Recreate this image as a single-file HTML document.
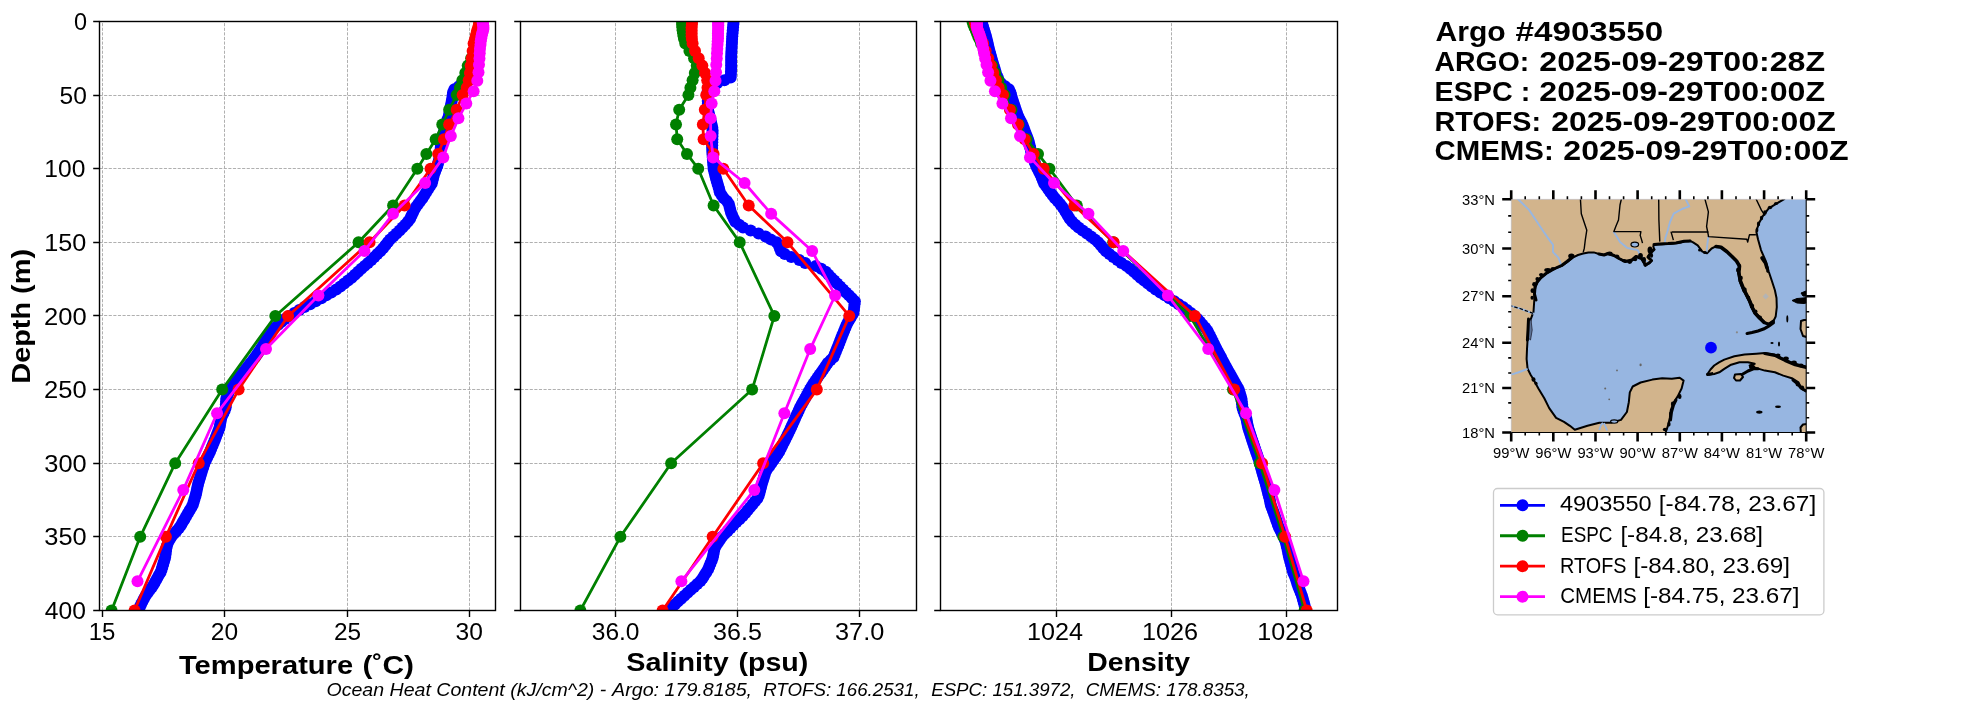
<!DOCTYPE html>
<html><head><meta charset="utf-8"><title>Argo profile comparison</title>
<style>html,body{margin:0;padding:0;background:#fff;overflow:hidden}svg{display:block;will-change:transform}text{font-family:"Liberation Sans",sans-serif;fill:#000;white-space:pre}</style>
</head><body>
<svg width="1967" height="712" viewBox="0 0 1967 712">
<rect width="100%" height="100%" fill="#fff"/>
<defs>
<clipPath id="c0"><rect x="99.5" y="21.45" width="396" height="589"/></clipPath>
<clipPath id="c1"><rect x="520.5" y="21.45" width="396" height="589"/></clipPath>
<clipPath id="c2"><rect x="940.5" y="21.45" width="397" height="589"/></clipPath>
</defs>
<path d="M102.5 610.45V21.45M224.5 610.45V21.45M347.5 610.45V21.45M469.5 610.45V21.45M99.5 95.5H495.5M99.5 168.5H495.5M99.5 242.5H495.5M99.5 315.5H495.5M99.5 389.5H495.5M99.5 463.5H495.5M99.5 536.5H495.5" stroke="#b0b0b0" stroke-width="1" stroke-dasharray="3.15 1.45" fill="none"/>
<g clip-path="url(#c0)">
<polyline points="480.23,21.45 479.61,24.39 479,27.34 478.43,30.28 477.86,33.23 477.29,36.17 477,39.12 476.7,42.06 476.41,45.01 476.11,47.95 475.82,50.9 475.38,53.84 474.94,56.79 474.5,59.73 474.06,62.68 473.62,65.62 473.13,68.57 472.64,71.52 472.15,74.46 470.84,77.41 468.97,80.35 465.05,83.3 458.93,86.24 454.4,89.19 453.1,92.13 452.71,95.08 452.32,98.02 451.75,100.97 451.18,103.91 450.61,106.86 450.03,109.8 449.46,112.75 448.89,115.69 447.83,118.63 446.77,121.58 445.71,124.52 445.02,127.47 444.34,130.41 443.55,133.36 442.65,136.3 441.75,139.25 441.18,142.19 440.94,145.14 440.69,148.08 440.42,151.03 440.13,153.97 439.83,156.92 439.02,159.86 438.2,162.81 437.39,165.75 436.24,168.7 435.1,171.64 433.96,174.59 433.22,177.53 432.49,180.48 431.76,183.42 429.9,186.37 428.04,189.31 426.17,192.26 424.29,195.2 422.41,198.15 420.37,201.09 418.17,204.04 415.97,206.98 414.19,209.93 412.84,212.87 411.48,215.82 410.13,218.76 407.85,221.71 405.18,224.65 402.51,227.6 399.64,230.54 396.48,233.49 393.31,236.43 390.14,239.38 387.77,242.32 385.39,245.27 383.02,248.21 380.26,251.16 377.34,254.1 374.41,257.05 371.35,260 368.01,262.94 364.67,265.88 361.34,268.83 358.12,271.77 354.91,274.72 351.69,277.66 348.07,280.61 344.27,283.55 340.47,286.5 336.26,289.44 331.29,292.39 326.32,295.33 321.35,298.28 315.72,301.22 310.1,304.17 304.47,307.11 299.27,310.06 294.3,313 289.33,315.95 284.88,318.89 281.61,321.84 278.17,324.78 274.56,327.73 271.69,330.67 269.94,333.62 268.18,336.56 266.43,339.51 264.67,342.45 262.92,345.4 261.17,348.34 259.19,351.29 257.11,354.23 255.03,357.18 252.85,360.12 250.51,363.07 248.17,366.01 245.84,368.96 243.5,371.9 241.16,374.85 238.82,377.79 236.43,380.74 234.02,383.68 231.61,386.63 229.66,389.57 228.56,392.52 227.46,395.46 226.37,398.41 226.15,401.35 225.92,404.3 225.7,407.24 224.71,410.19 223.4,413.13 222.08,416.08 221.05,419.02 220.54,421.97 220.03,424.91 219.51,427.86 218.37,430.8 217.22,433.75 216.07,436.69 214.92,439.64 213.76,442.58 212.54,445.53 211.31,448.47 210.09,451.42 208.75,454.36 207.31,457.31 205.86,460.25 204.41,463.2 203.5,466.14 202.61,469.09 201.73,472.03 200.84,474.98 199.96,477.92 199.08,480.87 198.19,483.81 197.51,486.76 196.89,489.7 196.27,492.65 195.59,495.59 194.69,498.54 193.8,501.48 192.9,504.43 191.44,507.37 189.67,510.32 187.9,513.26 186.14,516.21 184.48,519.15 182.83,522.1 181.17,525.04 179.07,527.99 176.52,530.93 173.97,533.88 171.43,536.83 169.62,539.77 167.95,542.72 166.96,545.66 166.28,548.61 165.9,551.55 165.53,554.5 165.13,557.44 164.26,560.38 163.39,563.33 162.52,566.27 161.66,569.22 160.59,572.16 158.95,575.11 157.3,578.06 155.65,581 154,583.95 152.09,586.89 149.93,589.84 147.77,592.78 145.61,595.73 143.9,598.67 142.44,601.62 140.98,604.56 139.67,607.5 138.7,610.45 137.74,613.39 136.77,616.34" fill="none" stroke="#0000ff" stroke-width="2.8" stroke-linejoin="round" stroke-linecap="butt"/>
<g fill="#0000ff"><circle cx="480.23" cy="21.45" r="6.0"/><circle cx="479.61" cy="24.39" r="6.0"/><circle cx="479" cy="27.34" r="6.0"/><circle cx="478.43" cy="30.28" r="6.0"/><circle cx="477.86" cy="33.23" r="6.0"/><circle cx="477.29" cy="36.17" r="6.0"/><circle cx="477" cy="39.12" r="6.0"/><circle cx="476.7" cy="42.06" r="6.0"/><circle cx="476.41" cy="45.01" r="6.0"/><circle cx="476.11" cy="47.95" r="6.0"/><circle cx="475.82" cy="50.9" r="6.0"/><circle cx="475.38" cy="53.84" r="6.0"/><circle cx="474.94" cy="56.79" r="6.0"/><circle cx="474.5" cy="59.73" r="6.0"/><circle cx="474.06" cy="62.68" r="6.0"/><circle cx="473.62" cy="65.62" r="6.0"/><circle cx="473.13" cy="68.57" r="6.0"/><circle cx="472.64" cy="71.52" r="6.0"/><circle cx="472.15" cy="74.46" r="6.0"/><circle cx="470.84" cy="77.41" r="6.0"/><circle cx="468.97" cy="80.35" r="6.0"/><circle cx="465.05" cy="83.3" r="6.0"/><circle cx="458.93" cy="86.24" r="6.0"/><circle cx="454.4" cy="89.19" r="6.0"/><circle cx="453.1" cy="92.13" r="6.0"/><circle cx="452.71" cy="95.08" r="6.0"/><circle cx="452.32" cy="98.02" r="6.0"/><circle cx="451.75" cy="100.97" r="6.0"/><circle cx="451.18" cy="103.91" r="6.0"/><circle cx="450.61" cy="106.86" r="6.0"/><circle cx="450.03" cy="109.8" r="6.0"/><circle cx="449.46" cy="112.75" r="6.0"/><circle cx="448.89" cy="115.69" r="6.0"/><circle cx="447.83" cy="118.63" r="6.0"/><circle cx="446.77" cy="121.58" r="6.0"/><circle cx="445.71" cy="124.52" r="6.0"/><circle cx="445.02" cy="127.47" r="6.0"/><circle cx="444.34" cy="130.41" r="6.0"/><circle cx="443.55" cy="133.36" r="6.0"/><circle cx="442.65" cy="136.3" r="6.0"/><circle cx="441.75" cy="139.25" r="6.0"/><circle cx="441.18" cy="142.19" r="6.0"/><circle cx="440.94" cy="145.14" r="6.0"/><circle cx="440.69" cy="148.08" r="6.0"/><circle cx="440.42" cy="151.03" r="6.0"/><circle cx="440.13" cy="153.97" r="6.0"/><circle cx="439.83" cy="156.92" r="6.0"/><circle cx="439.02" cy="159.86" r="6.0"/><circle cx="438.2" cy="162.81" r="6.0"/><circle cx="437.39" cy="165.75" r="6.0"/><circle cx="436.24" cy="168.7" r="6.0"/><circle cx="435.1" cy="171.64" r="6.0"/><circle cx="433.96" cy="174.59" r="6.0"/><circle cx="433.22" cy="177.53" r="6.0"/><circle cx="432.49" cy="180.48" r="6.0"/><circle cx="431.76" cy="183.42" r="6.0"/><circle cx="429.9" cy="186.37" r="6.0"/><circle cx="428.04" cy="189.31" r="6.0"/><circle cx="426.17" cy="192.26" r="6.0"/><circle cx="424.29" cy="195.2" r="6.0"/><circle cx="422.41" cy="198.15" r="6.0"/><circle cx="420.37" cy="201.09" r="6.0"/><circle cx="418.17" cy="204.04" r="6.0"/><circle cx="415.97" cy="206.98" r="6.0"/><circle cx="414.19" cy="209.93" r="6.0"/><circle cx="412.84" cy="212.87" r="6.0"/><circle cx="411.48" cy="215.82" r="6.0"/><circle cx="410.13" cy="218.76" r="6.0"/><circle cx="407.85" cy="221.71" r="6.0"/><circle cx="405.18" cy="224.65" r="6.0"/><circle cx="402.51" cy="227.6" r="6.0"/><circle cx="399.64" cy="230.54" r="6.0"/><circle cx="396.48" cy="233.49" r="6.0"/><circle cx="393.31" cy="236.43" r="6.0"/><circle cx="390.14" cy="239.38" r="6.0"/><circle cx="387.77" cy="242.32" r="6.0"/><circle cx="385.39" cy="245.27" r="6.0"/><circle cx="383.02" cy="248.21" r="6.0"/><circle cx="380.26" cy="251.16" r="6.0"/><circle cx="377.34" cy="254.1" r="6.0"/><circle cx="374.41" cy="257.05" r="6.0"/><circle cx="371.35" cy="260" r="6.0"/><circle cx="368.01" cy="262.94" r="6.0"/><circle cx="364.67" cy="265.88" r="6.0"/><circle cx="361.34" cy="268.83" r="6.0"/><circle cx="358.12" cy="271.77" r="6.0"/><circle cx="354.91" cy="274.72" r="6.0"/><circle cx="351.69" cy="277.66" r="6.0"/><circle cx="348.07" cy="280.61" r="6.0"/><circle cx="344.27" cy="283.55" r="6.0"/><circle cx="340.47" cy="286.5" r="6.0"/><circle cx="336.26" cy="289.44" r="6.0"/><circle cx="331.29" cy="292.39" r="6.0"/><circle cx="326.32" cy="295.33" r="6.0"/><circle cx="321.35" cy="298.28" r="6.0"/><circle cx="315.72" cy="301.22" r="6.0"/><circle cx="310.1" cy="304.17" r="6.0"/><circle cx="304.47" cy="307.11" r="6.0"/><circle cx="299.27" cy="310.06" r="6.0"/><circle cx="294.3" cy="313" r="6.0"/><circle cx="289.33" cy="315.95" r="6.0"/><circle cx="284.88" cy="318.89" r="6.0"/><circle cx="281.61" cy="321.84" r="6.0"/><circle cx="278.17" cy="324.78" r="6.0"/><circle cx="274.56" cy="327.73" r="6.0"/><circle cx="271.69" cy="330.67" r="6.0"/><circle cx="269.94" cy="333.62" r="6.0"/><circle cx="268.18" cy="336.56" r="6.0"/><circle cx="266.43" cy="339.51" r="6.0"/><circle cx="264.67" cy="342.45" r="6.0"/><circle cx="262.92" cy="345.4" r="6.0"/><circle cx="261.17" cy="348.34" r="6.0"/><circle cx="259.19" cy="351.29" r="6.0"/><circle cx="257.11" cy="354.23" r="6.0"/><circle cx="255.03" cy="357.18" r="6.0"/><circle cx="252.85" cy="360.12" r="6.0"/><circle cx="250.51" cy="363.07" r="6.0"/><circle cx="248.17" cy="366.01" r="6.0"/><circle cx="245.84" cy="368.96" r="6.0"/><circle cx="243.5" cy="371.9" r="6.0"/><circle cx="241.16" cy="374.85" r="6.0"/><circle cx="238.82" cy="377.79" r="6.0"/><circle cx="236.43" cy="380.74" r="6.0"/><circle cx="234.02" cy="383.68" r="6.0"/><circle cx="231.61" cy="386.63" r="6.0"/><circle cx="229.66" cy="389.57" r="6.0"/><circle cx="228.56" cy="392.52" r="6.0"/><circle cx="227.46" cy="395.46" r="6.0"/><circle cx="226.37" cy="398.41" r="6.0"/><circle cx="226.15" cy="401.35" r="6.0"/><circle cx="225.92" cy="404.3" r="6.0"/><circle cx="225.7" cy="407.24" r="6.0"/><circle cx="224.71" cy="410.19" r="6.0"/><circle cx="223.4" cy="413.13" r="6.0"/><circle cx="222.08" cy="416.08" r="6.0"/><circle cx="221.05" cy="419.02" r="6.0"/><circle cx="220.54" cy="421.97" r="6.0"/><circle cx="220.03" cy="424.91" r="6.0"/><circle cx="219.51" cy="427.86" r="6.0"/><circle cx="218.37" cy="430.8" r="6.0"/><circle cx="217.22" cy="433.75" r="6.0"/><circle cx="216.07" cy="436.69" r="6.0"/><circle cx="214.92" cy="439.64" r="6.0"/><circle cx="213.76" cy="442.58" r="6.0"/><circle cx="212.54" cy="445.53" r="6.0"/><circle cx="211.31" cy="448.47" r="6.0"/><circle cx="210.09" cy="451.42" r="6.0"/><circle cx="208.75" cy="454.36" r="6.0"/><circle cx="207.31" cy="457.31" r="6.0"/><circle cx="205.86" cy="460.25" r="6.0"/><circle cx="204.41" cy="463.2" r="6.0"/><circle cx="203.5" cy="466.14" r="6.0"/><circle cx="202.61" cy="469.09" r="6.0"/><circle cx="201.73" cy="472.03" r="6.0"/><circle cx="200.84" cy="474.98" r="6.0"/><circle cx="199.96" cy="477.92" r="6.0"/><circle cx="199.08" cy="480.87" r="6.0"/><circle cx="198.19" cy="483.81" r="6.0"/><circle cx="197.51" cy="486.76" r="6.0"/><circle cx="196.89" cy="489.7" r="6.0"/><circle cx="196.27" cy="492.65" r="6.0"/><circle cx="195.59" cy="495.59" r="6.0"/><circle cx="194.69" cy="498.54" r="6.0"/><circle cx="193.8" cy="501.48" r="6.0"/><circle cx="192.9" cy="504.43" r="6.0"/><circle cx="191.44" cy="507.37" r="6.0"/><circle cx="189.67" cy="510.32" r="6.0"/><circle cx="187.9" cy="513.26" r="6.0"/><circle cx="186.14" cy="516.21" r="6.0"/><circle cx="184.48" cy="519.15" r="6.0"/><circle cx="182.83" cy="522.1" r="6.0"/><circle cx="181.17" cy="525.04" r="6.0"/><circle cx="179.07" cy="527.99" r="6.0"/><circle cx="176.52" cy="530.93" r="6.0"/><circle cx="173.97" cy="533.88" r="6.0"/><circle cx="171.43" cy="536.83" r="6.0"/><circle cx="169.62" cy="539.77" r="6.0"/><circle cx="167.95" cy="542.72" r="6.0"/><circle cx="166.96" cy="545.66" r="6.0"/><circle cx="166.28" cy="548.61" r="6.0"/><circle cx="165.9" cy="551.55" r="6.0"/><circle cx="165.53" cy="554.5" r="6.0"/><circle cx="165.13" cy="557.44" r="6.0"/><circle cx="164.26" cy="560.38" r="6.0"/><circle cx="163.39" cy="563.33" r="6.0"/><circle cx="162.52" cy="566.27" r="6.0"/><circle cx="161.66" cy="569.22" r="6.0"/><circle cx="160.59" cy="572.16" r="6.0"/><circle cx="158.95" cy="575.11" r="6.0"/><circle cx="157.3" cy="578.06" r="6.0"/><circle cx="155.65" cy="581" r="6.0"/><circle cx="154" cy="583.95" r="6.0"/><circle cx="152.09" cy="586.89" r="6.0"/><circle cx="149.93" cy="589.84" r="6.0"/><circle cx="147.77" cy="592.78" r="6.0"/><circle cx="145.61" cy="595.73" r="6.0"/><circle cx="143.9" cy="598.67" r="6.0"/><circle cx="142.44" cy="601.62" r="6.0"/><circle cx="140.98" cy="604.56" r="6.0"/><circle cx="139.67" cy="607.5" r="6.0"/><circle cx="138.7" cy="610.45" r="6.0"/><circle cx="137.74" cy="613.39" r="6.0"/><circle cx="136.77" cy="616.34" r="6.0"/></g>
<polyline points="479.98,21.45 479.49,24.39 478.76,27.34 477.78,30.28 477.04,33.23 476.31,36.17 475.58,39.12 474.6,43.54 473.37,50.9 471.17,58.26 467.74,65.62 465.29,72.99 462.36,80.35 459.91,87.71 456.73,95.08 449.14,109.8 442.28,124.52 435.67,139.25 426.37,153.97 417.31,168.7 393.08,205.51 358.56,242.32 275.33,315.95 222.21,389.57 175.21,463.2 140.2,536.83 111.56,610.45 65.78,757.7" fill="none" stroke="#008000" stroke-width="2.8" stroke-linejoin="round" stroke-linecap="butt"/>
<g fill="#008000"><circle cx="479.98" cy="21.45" r="6.0"/><circle cx="479.49" cy="24.39" r="6.0"/><circle cx="478.76" cy="27.34" r="6.0"/><circle cx="477.78" cy="30.28" r="6.0"/><circle cx="477.04" cy="33.23" r="6.0"/><circle cx="476.31" cy="36.17" r="6.0"/><circle cx="475.58" cy="39.12" r="6.0"/><circle cx="474.6" cy="43.54" r="6.0"/><circle cx="473.37" cy="50.9" r="6.0"/><circle cx="471.17" cy="58.26" r="6.0"/><circle cx="467.74" cy="65.62" r="6.0"/><circle cx="465.29" cy="72.99" r="6.0"/><circle cx="462.36" cy="80.35" r="6.0"/><circle cx="459.91" cy="87.71" r="6.0"/><circle cx="456.73" cy="95.08" r="6.0"/><circle cx="449.14" cy="109.8" r="6.0"/><circle cx="442.28" cy="124.52" r="6.0"/><circle cx="435.67" cy="139.25" r="6.0"/><circle cx="426.37" cy="153.97" r="6.0"/><circle cx="417.31" cy="168.7" r="6.0"/><circle cx="393.08" cy="205.51" r="6.0"/><circle cx="358.56" cy="242.32" r="6.0"/><circle cx="275.33" cy="315.95" r="6.0"/><circle cx="222.21" cy="389.57" r="6.0"/><circle cx="175.21" cy="463.2" r="6.0"/><circle cx="140.2" cy="536.83" r="6.0"/><circle cx="111.56" cy="610.45" r="6.0"/><circle cx="65.78" cy="757.7" r="6.0"/></g>
<polyline points="479.49,21.45 479,24.39 478.27,27.34 477.29,30.28 476.55,33.23 475.82,36.17 475.09,39.12 473.62,43.54 472.64,50.9 471.66,58.26 470.68,65.62 469.94,72.99 468.72,80.35 466.76,87.71 462.6,95.08 456.73,109.8 449.14,124.52 444,139.25 438.12,153.97 430.53,168.7 404.58,205.51 369.58,242.32 288.06,315.95 238.61,389.57 198.71,463.2 165.9,536.83 134.57,610.45 90.26,757.7" fill="none" stroke="#ff0000" stroke-width="2.8" stroke-linejoin="round" stroke-linecap="butt"/>
<g fill="#ff0000"><circle cx="479.49" cy="21.45" r="6.0"/><circle cx="479" cy="24.39" r="6.0"/><circle cx="478.27" cy="27.34" r="6.0"/><circle cx="477.29" cy="30.28" r="6.0"/><circle cx="476.55" cy="33.23" r="6.0"/><circle cx="475.82" cy="36.17" r="6.0"/><circle cx="475.09" cy="39.12" r="6.0"/><circle cx="473.62" cy="43.54" r="6.0"/><circle cx="472.64" cy="50.9" r="6.0"/><circle cx="471.66" cy="58.26" r="6.0"/><circle cx="470.68" cy="65.62" r="6.0"/><circle cx="469.94" cy="72.99" r="6.0"/><circle cx="468.72" cy="80.35" r="6.0"/><circle cx="466.76" cy="87.71" r="6.0"/><circle cx="462.6" cy="95.08" r="6.0"/><circle cx="456.73" cy="109.8" r="6.0"/><circle cx="449.14" cy="124.52" r="6.0"/><circle cx="444" cy="139.25" r="6.0"/><circle cx="438.12" cy="153.97" r="6.0"/><circle cx="430.53" cy="168.7" r="6.0"/><circle cx="404.58" cy="205.51" r="6.0"/><circle cx="369.58" cy="242.32" r="6.0"/><circle cx="288.06" cy="315.95" r="6.0"/><circle cx="238.61" cy="389.57" r="6.0"/><circle cx="198.71" cy="463.2" r="6.0"/><circle cx="165.9" cy="536.83" r="6.0"/><circle cx="134.57" cy="610.45" r="6.0"/><circle cx="90.26" cy="757.7" r="6.0"/></g>
<polyline points="482.67,22.18 482.92,23.72 483.16,25.35 483.41,27.07 483.41,28.93 482.92,30.93 482.18,33.13 481.7,35.55 481.21,38.24 480.72,41.28 480.47,44.73 479.98,48.69 479.74,53.25 479.49,58.57 479,64.81 478.51,72.15 477.29,80.86 473.62,91.21 466.27,103.56 458.44,118.35 450.85,136.09 443.26,157.4 425.15,183.03 393.08,213.86 364.44,250.94 318.41,295.52 266.03,349.04 217.07,413.19 183.28,489.89 137.51,581.31" fill="none" stroke="#ff00ff" stroke-width="2.8" stroke-linejoin="round" stroke-linecap="butt"/>
<g fill="#ff00ff"><circle cx="482.67" cy="22.18" r="6.0"/><circle cx="482.92" cy="23.72" r="6.0"/><circle cx="483.16" cy="25.35" r="6.0"/><circle cx="483.41" cy="27.07" r="6.0"/><circle cx="483.41" cy="28.93" r="6.0"/><circle cx="482.92" cy="30.93" r="6.0"/><circle cx="482.18" cy="33.13" r="6.0"/><circle cx="481.7" cy="35.55" r="6.0"/><circle cx="481.21" cy="38.24" r="6.0"/><circle cx="480.72" cy="41.28" r="6.0"/><circle cx="480.47" cy="44.73" r="6.0"/><circle cx="479.98" cy="48.69" r="6.0"/><circle cx="479.74" cy="53.25" r="6.0"/><circle cx="479.49" cy="58.57" r="6.0"/><circle cx="479" cy="64.81" r="6.0"/><circle cx="478.51" cy="72.15" r="6.0"/><circle cx="477.29" cy="80.86" r="6.0"/><circle cx="473.62" cy="91.21" r="6.0"/><circle cx="466.27" cy="103.56" r="6.0"/><circle cx="458.44" cy="118.35" r="6.0"/><circle cx="450.85" cy="136.09" r="6.0"/><circle cx="443.26" cy="157.4" r="6.0"/><circle cx="425.15" cy="183.03" r="6.0"/><circle cx="393.08" cy="213.86" r="6.0"/><circle cx="364.44" cy="250.94" r="6.0"/><circle cx="318.41" cy="295.52" r="6.0"/><circle cx="266.03" cy="349.04" r="6.0"/><circle cx="217.07" cy="413.19" r="6.0"/><circle cx="183.28" cy="489.89" r="6.0"/><circle cx="137.51" cy="581.31" r="6.0"/></g>
</g>
<rect x="99.5" y="21.5" width="396" height="589" fill="none" stroke="#000" stroke-width="1.4"/>
<path d="M93.2 21.5H99.5M93.2 95.5H99.5M93.2 168.5H99.5M93.2 242.5H99.5M93.2 315.5H99.5M93.2 389.5H99.5M93.2 463.5H99.5M93.2 536.5H99.5M93.2 610.5H99.5M102.5 610.5V617M224.5 610.5V617M347.5 610.5V617M469.5 610.5V617" stroke="#000" stroke-width="1.4" fill="none"/>
<path d="M615.5 610.45V21.45M737.5 610.45V21.45M859.5 610.45V21.45M520.5 95.5H916.5M520.5 168.5H916.5M520.5 242.5H916.5M520.5 315.5H916.5M520.5 389.5H916.5M520.5 463.5H916.5M520.5 536.5H916.5" stroke="#b0b0b0" stroke-width="1" stroke-dasharray="3.15 1.45" fill="none"/>
<g clip-path="url(#c1)">
<polyline points="733.6,21.45 733.32,24.39 733.05,27.34 732.78,30.28 732.51,33.23 732.28,36.17 732.1,39.12 731.92,42.06 731.74,45.01 731.57,47.95 731.43,50.9 731.3,53.84 731.16,56.79 731.16,59.73 731.16,62.68 731.16,65.62 731.16,68.57 730.99,71.52 730.83,74.46 730.67,77.41 724.42,80.35 717.11,83.3 709.44,86.24 708.14,89.19 707.53,92.13 707.6,95.08 707.68,98.02 707.75,100.97 707.83,103.91 707.9,106.86 707.98,109.8 708.69,112.75 709.4,115.69 710.12,118.63 710.83,121.58 711.54,124.52 712.26,127.47 712.58,130.41 712.51,133.36 712.44,136.3 712.37,139.25 712.3,142.19 712.23,145.14 712.16,148.08 712.24,151.03 712.46,153.97 712.69,156.92 712.91,159.86 713.14,162.81 713.36,165.75 713.59,168.7 714.32,171.64 715.04,174.59 715.77,177.53 716.6,180.48 717.47,183.42 718.34,186.37 719.17,189.31 719.86,192.26 721.78,195.2 723.84,198.15 726.83,201.09 728.81,204.04 729.57,206.98 730.34,209.93 731.1,212.87 732.3,215.82 733.8,218.76 735.3,221.71 739.16,224.65 743.02,227.6 750.62,230.54 758.57,233.49 765.61,236.43 770.68,239.38 776.5,242.32 778.9,245.27 779.84,248.21 781.06,251.16 784.79,254.1 791.28,257.05 799.3,260 805.18,262.94 815.74,265.88 821.22,268.83 825.79,271.77 828.55,274.72 831.31,277.66 834.19,280.61 837.14,283.55 840.1,286.5 843.05,289.44 846,292.39 848.96,295.33 851.91,298.28 854.86,301.22 854.55,304.17 854.23,307.11 853.91,310.06 853.38,313 851.65,315.95 849.92,318.89 848.18,321.84 846.63,324.78 845.41,327.73 844.19,330.67 842.97,333.62 841.79,336.56 840.65,339.51 839.51,342.45 838.37,345.4 837.17,348.34 835.95,351.29 834.73,354.23 833.51,357.18 830.63,360.12 827.72,363.07 825.66,366.01 823.61,368.96 821.55,371.9 819.5,374.85 817.44,377.79 815.39,380.74 813.33,383.68 811.51,386.63 809.89,389.57 808.26,392.52 806.63,395.46 805.01,398.41 803.38,401.35 801.75,404.3 800.13,407.24 798.79,410.19 797.48,413.13 796.17,416.08 794.86,419.02 793.56,421.97 792.25,424.91 790.94,427.86 789.59,430.8 788.13,433.75 786.66,436.69 785.19,439.64 783.72,442.58 782.26,445.53 780.79,448.47 779.32,451.42 777.5,454.36 775.45,457.31 773.4,460.25 771.35,463.2 769.29,466.14 767.24,469.09 765.53,472.03 764.62,474.98 763.72,477.92 762.81,480.87 761.9,483.81 761.11,486.76 760.33,489.7 759.54,492.65 758.75,495.59 757.39,498.54 754.95,501.48 752.51,504.43 750.07,507.37 747.63,510.32 745.19,513.26 742.46,516.21 739.49,519.15 736.52,522.1 733.55,525.04 730.64,527.99 727.74,530.93 724.84,533.88 722.07,536.83 720.02,539.77 717.98,542.72 715.93,545.66 714.54,548.61 713.95,551.55 713.35,554.5 712.76,557.44 711.72,560.38 710.53,563.33 709.35,566.27 708.13,569.22 706.35,572.16 704.57,575.11 702.79,578.06 700.5,581 697.27,583.95 694.04,586.89 690.81,589.84 687.58,592.78 684.34,595.73 681.11,598.67 677.88,601.62 674.89,604.56 671.91,607.5 668.94,610.45 666.62,613.39 664.3,616.34" fill="none" stroke="#0000ff" stroke-width="2.8" stroke-linejoin="round" stroke-linecap="butt"/>
<g fill="#0000ff"><circle cx="733.6" cy="21.45" r="6.0"/><circle cx="733.32" cy="24.39" r="6.0"/><circle cx="733.05" cy="27.34" r="6.0"/><circle cx="732.78" cy="30.28" r="6.0"/><circle cx="732.51" cy="33.23" r="6.0"/><circle cx="732.28" cy="36.17" r="6.0"/><circle cx="732.1" cy="39.12" r="6.0"/><circle cx="731.92" cy="42.06" r="6.0"/><circle cx="731.74" cy="45.01" r="6.0"/><circle cx="731.57" cy="47.95" r="6.0"/><circle cx="731.43" cy="50.9" r="6.0"/><circle cx="731.3" cy="53.84" r="6.0"/><circle cx="731.16" cy="56.79" r="6.0"/><circle cx="731.16" cy="59.73" r="6.0"/><circle cx="731.16" cy="62.68" r="6.0"/><circle cx="731.16" cy="65.62" r="6.0"/><circle cx="731.16" cy="68.57" r="6.0"/><circle cx="730.99" cy="71.52" r="6.0"/><circle cx="730.83" cy="74.46" r="6.0"/><circle cx="730.67" cy="77.41" r="6.0"/><circle cx="724.42" cy="80.35" r="6.0"/><circle cx="717.11" cy="83.3" r="6.0"/><circle cx="709.44" cy="86.24" r="6.0"/><circle cx="708.14" cy="89.19" r="6.0"/><circle cx="707.53" cy="92.13" r="6.0"/><circle cx="707.6" cy="95.08" r="6.0"/><circle cx="707.68" cy="98.02" r="6.0"/><circle cx="707.75" cy="100.97" r="6.0"/><circle cx="707.83" cy="103.91" r="6.0"/><circle cx="707.9" cy="106.86" r="6.0"/><circle cx="707.98" cy="109.8" r="6.0"/><circle cx="708.69" cy="112.75" r="6.0"/><circle cx="709.4" cy="115.69" r="6.0"/><circle cx="710.12" cy="118.63" r="6.0"/><circle cx="710.83" cy="121.58" r="6.0"/><circle cx="711.54" cy="124.52" r="6.0"/><circle cx="712.26" cy="127.47" r="6.0"/><circle cx="712.58" cy="130.41" r="6.0"/><circle cx="712.51" cy="133.36" r="6.0"/><circle cx="712.44" cy="136.3" r="6.0"/><circle cx="712.37" cy="139.25" r="6.0"/><circle cx="712.3" cy="142.19" r="6.0"/><circle cx="712.23" cy="145.14" r="6.0"/><circle cx="712.16" cy="148.08" r="6.0"/><circle cx="712.24" cy="151.03" r="6.0"/><circle cx="712.46" cy="153.97" r="6.0"/><circle cx="712.69" cy="156.92" r="6.0"/><circle cx="712.91" cy="159.86" r="6.0"/><circle cx="713.14" cy="162.81" r="6.0"/><circle cx="713.36" cy="165.75" r="6.0"/><circle cx="713.59" cy="168.7" r="6.0"/><circle cx="714.32" cy="171.64" r="6.0"/><circle cx="715.04" cy="174.59" r="6.0"/><circle cx="715.77" cy="177.53" r="6.0"/><circle cx="716.6" cy="180.48" r="6.0"/><circle cx="717.47" cy="183.42" r="6.0"/><circle cx="718.34" cy="186.37" r="6.0"/><circle cx="719.17" cy="189.31" r="6.0"/><circle cx="719.86" cy="192.26" r="6.0"/><circle cx="721.78" cy="195.2" r="6.0"/><circle cx="723.84" cy="198.15" r="6.0"/><circle cx="726.83" cy="201.09" r="6.0"/><circle cx="728.81" cy="204.04" r="6.0"/><circle cx="729.57" cy="206.98" r="6.0"/><circle cx="730.34" cy="209.93" r="6.0"/><circle cx="731.1" cy="212.87" r="6.0"/><circle cx="732.3" cy="215.82" r="6.0"/><circle cx="733.8" cy="218.76" r="6.0"/><circle cx="735.3" cy="221.71" r="6.0"/><circle cx="739.16" cy="224.65" r="6.0"/><circle cx="743.02" cy="227.6" r="6.0"/><circle cx="750.62" cy="230.54" r="6.0"/><circle cx="758.57" cy="233.49" r="6.0"/><circle cx="765.61" cy="236.43" r="6.0"/><circle cx="770.68" cy="239.38" r="6.0"/><circle cx="776.5" cy="242.32" r="6.0"/><circle cx="778.9" cy="245.27" r="6.0"/><circle cx="779.84" cy="248.21" r="6.0"/><circle cx="781.06" cy="251.16" r="6.0"/><circle cx="784.79" cy="254.1" r="6.0"/><circle cx="791.28" cy="257.05" r="6.0"/><circle cx="799.3" cy="260" r="6.0"/><circle cx="805.18" cy="262.94" r="6.0"/><circle cx="815.74" cy="265.88" r="6.0"/><circle cx="821.22" cy="268.83" r="6.0"/><circle cx="825.79" cy="271.77" r="6.0"/><circle cx="828.55" cy="274.72" r="6.0"/><circle cx="831.31" cy="277.66" r="6.0"/><circle cx="834.19" cy="280.61" r="6.0"/><circle cx="837.14" cy="283.55" r="6.0"/><circle cx="840.1" cy="286.5" r="6.0"/><circle cx="843.05" cy="289.44" r="6.0"/><circle cx="846" cy="292.39" r="6.0"/><circle cx="848.96" cy="295.33" r="6.0"/><circle cx="851.91" cy="298.28" r="6.0"/><circle cx="854.86" cy="301.22" r="6.0"/><circle cx="854.55" cy="304.17" r="6.0"/><circle cx="854.23" cy="307.11" r="6.0"/><circle cx="853.91" cy="310.06" r="6.0"/><circle cx="853.38" cy="313" r="6.0"/><circle cx="851.65" cy="315.95" r="6.0"/><circle cx="849.92" cy="318.89" r="6.0"/><circle cx="848.18" cy="321.84" r="6.0"/><circle cx="846.63" cy="324.78" r="6.0"/><circle cx="845.41" cy="327.73" r="6.0"/><circle cx="844.19" cy="330.67" r="6.0"/><circle cx="842.97" cy="333.62" r="6.0"/><circle cx="841.79" cy="336.56" r="6.0"/><circle cx="840.65" cy="339.51" r="6.0"/><circle cx="839.51" cy="342.45" r="6.0"/><circle cx="838.37" cy="345.4" r="6.0"/><circle cx="837.17" cy="348.34" r="6.0"/><circle cx="835.95" cy="351.29" r="6.0"/><circle cx="834.73" cy="354.23" r="6.0"/><circle cx="833.51" cy="357.18" r="6.0"/><circle cx="830.63" cy="360.12" r="6.0"/><circle cx="827.72" cy="363.07" r="6.0"/><circle cx="825.66" cy="366.01" r="6.0"/><circle cx="823.61" cy="368.96" r="6.0"/><circle cx="821.55" cy="371.9" r="6.0"/><circle cx="819.5" cy="374.85" r="6.0"/><circle cx="817.44" cy="377.79" r="6.0"/><circle cx="815.39" cy="380.74" r="6.0"/><circle cx="813.33" cy="383.68" r="6.0"/><circle cx="811.51" cy="386.63" r="6.0"/><circle cx="809.89" cy="389.57" r="6.0"/><circle cx="808.26" cy="392.52" r="6.0"/><circle cx="806.63" cy="395.46" r="6.0"/><circle cx="805.01" cy="398.41" r="6.0"/><circle cx="803.38" cy="401.35" r="6.0"/><circle cx="801.75" cy="404.3" r="6.0"/><circle cx="800.13" cy="407.24" r="6.0"/><circle cx="798.79" cy="410.19" r="6.0"/><circle cx="797.48" cy="413.13" r="6.0"/><circle cx="796.17" cy="416.08" r="6.0"/><circle cx="794.86" cy="419.02" r="6.0"/><circle cx="793.56" cy="421.97" r="6.0"/><circle cx="792.25" cy="424.91" r="6.0"/><circle cx="790.94" cy="427.86" r="6.0"/><circle cx="789.59" cy="430.8" r="6.0"/><circle cx="788.13" cy="433.75" r="6.0"/><circle cx="786.66" cy="436.69" r="6.0"/><circle cx="785.19" cy="439.64" r="6.0"/><circle cx="783.72" cy="442.58" r="6.0"/><circle cx="782.26" cy="445.53" r="6.0"/><circle cx="780.79" cy="448.47" r="6.0"/><circle cx="779.32" cy="451.42" r="6.0"/><circle cx="777.5" cy="454.36" r="6.0"/><circle cx="775.45" cy="457.31" r="6.0"/><circle cx="773.4" cy="460.25" r="6.0"/><circle cx="771.35" cy="463.2" r="6.0"/><circle cx="769.29" cy="466.14" r="6.0"/><circle cx="767.24" cy="469.09" r="6.0"/><circle cx="765.53" cy="472.03" r="6.0"/><circle cx="764.62" cy="474.98" r="6.0"/><circle cx="763.72" cy="477.92" r="6.0"/><circle cx="762.81" cy="480.87" r="6.0"/><circle cx="761.9" cy="483.81" r="6.0"/><circle cx="761.11" cy="486.76" r="6.0"/><circle cx="760.33" cy="489.7" r="6.0"/><circle cx="759.54" cy="492.65" r="6.0"/><circle cx="758.75" cy="495.59" r="6.0"/><circle cx="757.39" cy="498.54" r="6.0"/><circle cx="754.95" cy="501.48" r="6.0"/><circle cx="752.51" cy="504.43" r="6.0"/><circle cx="750.07" cy="507.37" r="6.0"/><circle cx="747.63" cy="510.32" r="6.0"/><circle cx="745.19" cy="513.26" r="6.0"/><circle cx="742.46" cy="516.21" r="6.0"/><circle cx="739.49" cy="519.15" r="6.0"/><circle cx="736.52" cy="522.1" r="6.0"/><circle cx="733.55" cy="525.04" r="6.0"/><circle cx="730.64" cy="527.99" r="6.0"/><circle cx="727.74" cy="530.93" r="6.0"/><circle cx="724.84" cy="533.88" r="6.0"/><circle cx="722.07" cy="536.83" r="6.0"/><circle cx="720.02" cy="539.77" r="6.0"/><circle cx="717.98" cy="542.72" r="6.0"/><circle cx="715.93" cy="545.66" r="6.0"/><circle cx="714.54" cy="548.61" r="6.0"/><circle cx="713.95" cy="551.55" r="6.0"/><circle cx="713.35" cy="554.5" r="6.0"/><circle cx="712.76" cy="557.44" r="6.0"/><circle cx="711.72" cy="560.38" r="6.0"/><circle cx="710.53" cy="563.33" r="6.0"/><circle cx="709.35" cy="566.27" r="6.0"/><circle cx="708.13" cy="569.22" r="6.0"/><circle cx="706.35" cy="572.16" r="6.0"/><circle cx="704.57" cy="575.11" r="6.0"/><circle cx="702.79" cy="578.06" r="6.0"/><circle cx="700.5" cy="581" r="6.0"/><circle cx="697.27" cy="583.95" r="6.0"/><circle cx="694.04" cy="586.89" r="6.0"/><circle cx="690.81" cy="589.84" r="6.0"/><circle cx="687.58" cy="592.78" r="6.0"/><circle cx="684.34" cy="595.73" r="6.0"/><circle cx="681.11" cy="598.67" r="6.0"/><circle cx="677.88" cy="601.62" r="6.0"/><circle cx="674.89" cy="604.56" r="6.0"/><circle cx="671.91" cy="607.5" r="6.0"/><circle cx="668.94" cy="610.45" r="6.0"/><circle cx="666.62" cy="613.39" r="6.0"/><circle cx="664.3" cy="616.34" r="6.0"/></g>
<polyline points="682.11,21.45 682.11,24.39 682.36,27.34 682.6,30.28 683.09,33.23 683.58,36.17 684.06,39.12 685.28,43.54 689.43,50.9 694.07,58.26 696.75,65.62 694.8,72.99 692.6,80.35 690.41,87.71 688.46,95.08 679.18,109.8 676.01,124.52 677.23,139.25 686.99,153.97 698.22,168.7 713.59,205.51 739.7,242.32 774.34,315.95 752.14,389.57 671.13,463.2 620.38,536.83 580.36,610.45 517.9,757.7" fill="none" stroke="#008000" stroke-width="2.8" stroke-linejoin="round" stroke-linecap="butt"/>
<g fill="#008000"><circle cx="682.11" cy="21.45" r="6.0"/><circle cx="682.11" cy="24.39" r="6.0"/><circle cx="682.36" cy="27.34" r="6.0"/><circle cx="682.6" cy="30.28" r="6.0"/><circle cx="683.09" cy="33.23" r="6.0"/><circle cx="683.58" cy="36.17" r="6.0"/><circle cx="684.06" cy="39.12" r="6.0"/><circle cx="685.28" cy="43.54" r="6.0"/><circle cx="689.43" cy="50.9" r="6.0"/><circle cx="694.07" cy="58.26" r="6.0"/><circle cx="696.75" cy="65.62" r="6.0"/><circle cx="694.8" cy="72.99" r="6.0"/><circle cx="692.6" cy="80.35" r="6.0"/><circle cx="690.41" cy="87.71" r="6.0"/><circle cx="688.46" cy="95.08" r="6.0"/><circle cx="679.18" cy="109.8" r="6.0"/><circle cx="676.01" cy="124.52" r="6.0"/><circle cx="677.23" cy="139.25" r="6.0"/><circle cx="686.99" cy="153.97" r="6.0"/><circle cx="698.22" cy="168.7" r="6.0"/><circle cx="713.59" cy="205.51" r="6.0"/><circle cx="739.7" cy="242.32" r="6.0"/><circle cx="774.34" cy="315.95" r="6.0"/><circle cx="752.14" cy="389.57" r="6.0"/><circle cx="671.13" cy="463.2" r="6.0"/><circle cx="620.38" cy="536.83" r="6.0"/><circle cx="580.36" cy="610.45" r="6.0"/><circle cx="517.9" cy="757.7" r="6.0"/></g>
<polyline points="692.12,21.45 691.87,24.39 691.63,27.34 691.63,30.28 691.63,33.23 691.63,36.17 691.87,39.12 692.6,43.54 695.04,50.9 698.7,58.26 702.36,65.62 705.05,72.99 707.24,80.35 707.49,87.71 706.27,95.08 704.8,109.8 702.85,124.52 703.58,139.25 713.59,153.97 723.35,168.7 748.72,205.51 787.52,242.32 849.25,315.95 816.8,389.57 763.12,463.2 712.61,536.83 662.59,610.45 591.1,757.7" fill="none" stroke="#ff0000" stroke-width="2.8" stroke-linejoin="round" stroke-linecap="butt"/>
<g fill="#ff0000"><circle cx="692.12" cy="21.45" r="6.0"/><circle cx="691.87" cy="24.39" r="6.0"/><circle cx="691.63" cy="27.34" r="6.0"/><circle cx="691.63" cy="30.28" r="6.0"/><circle cx="691.63" cy="33.23" r="6.0"/><circle cx="691.63" cy="36.17" r="6.0"/><circle cx="691.87" cy="39.12" r="6.0"/><circle cx="692.6" cy="43.54" r="6.0"/><circle cx="695.04" cy="50.9" r="6.0"/><circle cx="698.7" cy="58.26" r="6.0"/><circle cx="702.36" cy="65.62" r="6.0"/><circle cx="705.05" cy="72.99" r="6.0"/><circle cx="707.24" cy="80.35" r="6.0"/><circle cx="707.49" cy="87.71" r="6.0"/><circle cx="706.27" cy="95.08" r="6.0"/><circle cx="704.8" cy="109.8" r="6.0"/><circle cx="702.85" cy="124.52" r="6.0"/><circle cx="703.58" cy="139.25" r="6.0"/><circle cx="713.59" cy="153.97" r="6.0"/><circle cx="723.35" cy="168.7" r="6.0"/><circle cx="748.72" cy="205.51" r="6.0"/><circle cx="787.52" cy="242.32" r="6.0"/><circle cx="849.25" cy="315.95" r="6.0"/><circle cx="816.8" cy="389.57" r="6.0"/><circle cx="763.12" cy="463.2" r="6.0"/><circle cx="712.61" cy="536.83" r="6.0"/><circle cx="662.59" cy="610.45" r="6.0"/><circle cx="591.1" cy="757.7" r="6.0"/></g>
<polyline points="718.22,22.18 718.22,23.72 718.22,25.35 718.22,27.07 718.22,28.93 717.98,30.93 717.98,33.13 717.98,35.55 717.98,38.24 717.74,41.28 717.49,44.73 717.25,48.69 717,53.25 716.76,58.57 716.27,64.81 716.03,72.15 715.54,80.86 714.32,91.21 711.64,103.56 710.66,118.35 710.66,136.09 713.1,157.4 744.58,183.03 771.17,213.86 812.16,250.94 835.1,295.52 810.21,349.04 784.35,413.19 754.34,489.89 681.38,581.31" fill="none" stroke="#ff00ff" stroke-width="2.8" stroke-linejoin="round" stroke-linecap="butt"/>
<g fill="#ff00ff"><circle cx="718.22" cy="22.18" r="6.0"/><circle cx="718.22" cy="23.72" r="6.0"/><circle cx="718.22" cy="25.35" r="6.0"/><circle cx="718.22" cy="27.07" r="6.0"/><circle cx="718.22" cy="28.93" r="6.0"/><circle cx="717.98" cy="30.93" r="6.0"/><circle cx="717.98" cy="33.13" r="6.0"/><circle cx="717.98" cy="35.55" r="6.0"/><circle cx="717.98" cy="38.24" r="6.0"/><circle cx="717.74" cy="41.28" r="6.0"/><circle cx="717.49" cy="44.73" r="6.0"/><circle cx="717.25" cy="48.69" r="6.0"/><circle cx="717" cy="53.25" r="6.0"/><circle cx="716.76" cy="58.57" r="6.0"/><circle cx="716.27" cy="64.81" r="6.0"/><circle cx="716.03" cy="72.15" r="6.0"/><circle cx="715.54" cy="80.86" r="6.0"/><circle cx="714.32" cy="91.21" r="6.0"/><circle cx="711.64" cy="103.56" r="6.0"/><circle cx="710.66" cy="118.35" r="6.0"/><circle cx="710.66" cy="136.09" r="6.0"/><circle cx="713.1" cy="157.4" r="6.0"/><circle cx="744.58" cy="183.03" r="6.0"/><circle cx="771.17" cy="213.86" r="6.0"/><circle cx="812.16" cy="250.94" r="6.0"/><circle cx="835.1" cy="295.52" r="6.0"/><circle cx="810.21" cy="349.04" r="6.0"/><circle cx="784.35" cy="413.19" r="6.0"/><circle cx="754.34" cy="489.89" r="6.0"/><circle cx="681.38" cy="581.31" r="6.0"/></g>
</g>
<rect x="520.5" y="21.5" width="396" height="589" fill="none" stroke="#000" stroke-width="1.4"/>
<path d="M514.2 21.5H520.5M514.2 95.5H520.5M514.2 168.5H520.5M514.2 242.5H520.5M514.2 315.5H520.5M514.2 389.5H520.5M514.2 463.5H520.5M514.2 536.5H520.5M514.2 610.5H520.5M615.5 610.5V617M737.5 610.5V617M859.5 610.5V617" stroke="#000" stroke-width="1.4" fill="none"/>
<path d="M1056.5 610.45V21.45M1171.5 610.45V21.45M1286.5 610.45V21.45M940.5 95.5H1337.5M940.5 168.5H1337.5M940.5 242.5H1337.5M940.5 315.5H1337.5M940.5 389.5H1337.5M940.5 463.5H1337.5M940.5 536.5H1337.5" stroke="#b0b0b0" stroke-width="1" stroke-dasharray="3.15 1.45" fill="none"/>
<g clip-path="url(#c2)">
<polyline points="981.38,21.45 982.32,24.39 983.26,27.34 984.16,30.28 985.07,33.23 985.98,36.17 986.68,39.12 987.37,42.06 988.07,45.01 988.77,47.95 989.47,50.9 990.29,53.84 991.12,56.79 991.96,59.73 992.81,62.68 993.66,65.62 994.54,68.57 995.4,71.52 996.26,74.46 997.77,77.41 998.67,80.35 1001.02,83.3 1005.05,86.24 1008.93,89.19 1010.34,92.13 1011.15,95.08 1011.97,98.02 1012.93,100.97 1013.88,103.91 1014.84,106.86 1015.8,109.8 1016.87,112.75 1017.94,115.69 1019.39,118.63 1020.85,121.58 1022.3,124.52 1023.46,127.47 1024.55,130.41 1025.65,133.36 1026.84,136.3 1028.02,139.25 1028.95,142.19 1029.62,145.14 1030.29,148.08 1031.01,151.03 1031.77,153.97 1032.53,156.92 1033.71,159.86 1034.88,162.81 1036.05,165.75 1037.47,168.7 1038.99,171.64 1040.5,174.59 1041.7,177.53 1042.91,180.48 1044.13,183.42 1046.22,186.37 1048.31,189.31 1050.38,192.26 1052.67,195.2 1054.98,198.15 1057.58,201.09 1060.12,204.04 1062.45,206.98 1064.44,209.93 1066.11,212.87 1067.85,215.82 1069.65,218.76 1072.15,221.71 1075.37,224.65 1078.58,227.6 1082.6,230.54 1086.91,233.49 1091.04,236.43 1094.83,239.38 1098.14,242.32 1100.84,245.27 1103.27,248.21 1106.04,251.16 1109.38,254.1 1113.2,257.05 1117.39,260 1121.39,262.94 1126.22,265.88 1130.14,268.83 1133.8,271.77 1137.13,274.72 1140.46,277.66 1144.09,280.61 1147.86,283.55 1151.61,286.5 1155.65,289.44 1160.22,292.39 1164.77,295.33 1169.3,298.28 1174.28,301.22 1178.65,304.17 1183,307.11 1187.03,310.06 1190.84,313 1194.42,315.95 1197.64,318.89 1200.03,321.84 1202.57,324.78 1205.27,327.73 1207.47,330.67 1208.92,333.62 1210.37,336.56 1211.83,339.51 1213.29,342.45 1214.74,345.4 1216.18,348.34 1217.77,351.29 1219.41,354.23 1221.06,357.18 1222.47,360.12 1223.97,363.07 1225.62,366.01 1227.27,368.96 1228.91,371.9 1230.55,374.85 1232.19,377.79 1233.85,380.74 1235.53,383.68 1237.24,386.63 1238.69,389.57 1239.59,392.52 1240.49,395.46 1241.39,398.41 1241.74,401.35 1242.09,404.3 1242.44,407.24 1243.32,410.19 1244.42,413.13 1245.51,416.08 1246.43,419.02 1247.01,421.97 1247.6,424.91 1248.18,427.86 1249.16,430.8 1250.12,433.75 1251.07,436.69 1252.03,439.64 1252.99,442.58 1253.98,445.53 1254.98,448.47 1255.98,451.42 1256.98,454.36 1258.01,457.31 1259.04,460.25 1260.06,463.2 1260.76,466.14 1261.43,469.09 1262.17,472.03 1263.05,474.98 1263.93,477.92 1264.81,480.87 1265.68,483.81 1266.46,486.76 1267.2,489.7 1267.94,492.65 1268.71,495.59 1269.51,498.54 1270.12,501.48 1270.72,504.43 1271.68,507.37 1272.81,510.32 1273.94,513.26 1275.01,516.21 1275.98,519.15 1276.94,522.1 1277.9,525.04 1279.13,527.99 1280.63,530.93 1282.13,533.88 1283.64,536.83 1284.84,539.77 1285.96,542.72 1286.67,545.66 1287.32,548.61 1287.94,551.55 1288.55,554.5 1289.18,557.44 1290.01,560.38 1290.8,563.33 1291.6,566.27 1292.39,569.22 1293.19,572.16 1294.33,575.11 1295.47,578.06 1296.51,581 1297.39,583.95 1298.41,586.89 1299.57,589.84 1300.73,592.78 1301.89,595.73 1302.78,598.67 1303.53,601.62 1304.33,604.56 1305.04,607.5 1305.55,610.45 1306.18,613.39 1306.8,616.34" fill="none" stroke="#0000ff" stroke-width="2.8" stroke-linejoin="round" stroke-linecap="butt"/>
<g fill="#0000ff"><circle cx="981.38" cy="21.45" r="6.0"/><circle cx="982.32" cy="24.39" r="6.0"/><circle cx="983.26" cy="27.34" r="6.0"/><circle cx="984.16" cy="30.28" r="6.0"/><circle cx="985.07" cy="33.23" r="6.0"/><circle cx="985.98" cy="36.17" r="6.0"/><circle cx="986.68" cy="39.12" r="6.0"/><circle cx="987.37" cy="42.06" r="6.0"/><circle cx="988.07" cy="45.01" r="6.0"/><circle cx="988.77" cy="47.95" r="6.0"/><circle cx="989.47" cy="50.9" r="6.0"/><circle cx="990.29" cy="53.84" r="6.0"/><circle cx="991.12" cy="56.79" r="6.0"/><circle cx="991.96" cy="59.73" r="6.0"/><circle cx="992.81" cy="62.68" r="6.0"/><circle cx="993.66" cy="65.62" r="6.0"/><circle cx="994.54" cy="68.57" r="6.0"/><circle cx="995.4" cy="71.52" r="6.0"/><circle cx="996.26" cy="74.46" r="6.0"/><circle cx="997.77" cy="77.41" r="6.0"/><circle cx="998.67" cy="80.35" r="6.0"/><circle cx="1001.02" cy="83.3" r="6.0"/><circle cx="1005.05" cy="86.24" r="6.0"/><circle cx="1008.93" cy="89.19" r="6.0"/><circle cx="1010.34" cy="92.13" r="6.0"/><circle cx="1011.15" cy="95.08" r="6.0"/><circle cx="1011.97" cy="98.02" r="6.0"/><circle cx="1012.93" cy="100.97" r="6.0"/><circle cx="1013.88" cy="103.91" r="6.0"/><circle cx="1014.84" cy="106.86" r="6.0"/><circle cx="1015.8" cy="109.8" r="6.0"/><circle cx="1016.87" cy="112.75" r="6.0"/><circle cx="1017.94" cy="115.69" r="6.0"/><circle cx="1019.39" cy="118.63" r="6.0"/><circle cx="1020.85" cy="121.58" r="6.0"/><circle cx="1022.3" cy="124.52" r="6.0"/><circle cx="1023.46" cy="127.47" r="6.0"/><circle cx="1024.55" cy="130.41" r="6.0"/><circle cx="1025.65" cy="133.36" r="6.0"/><circle cx="1026.84" cy="136.3" r="6.0"/><circle cx="1028.02" cy="139.25" r="6.0"/><circle cx="1028.95" cy="142.19" r="6.0"/><circle cx="1029.62" cy="145.14" r="6.0"/><circle cx="1030.29" cy="148.08" r="6.0"/><circle cx="1031.01" cy="151.03" r="6.0"/><circle cx="1031.77" cy="153.97" r="6.0"/><circle cx="1032.53" cy="156.92" r="6.0"/><circle cx="1033.71" cy="159.86" r="6.0"/><circle cx="1034.88" cy="162.81" r="6.0"/><circle cx="1036.05" cy="165.75" r="6.0"/><circle cx="1037.47" cy="168.7" r="6.0"/><circle cx="1038.99" cy="171.64" r="6.0"/><circle cx="1040.5" cy="174.59" r="6.0"/><circle cx="1041.7" cy="177.53" r="6.0"/><circle cx="1042.91" cy="180.48" r="6.0"/><circle cx="1044.13" cy="183.42" r="6.0"/><circle cx="1046.22" cy="186.37" r="6.0"/><circle cx="1048.31" cy="189.31" r="6.0"/><circle cx="1050.38" cy="192.26" r="6.0"/><circle cx="1052.67" cy="195.2" r="6.0"/><circle cx="1054.98" cy="198.15" r="6.0"/><circle cx="1057.58" cy="201.09" r="6.0"/><circle cx="1060.12" cy="204.04" r="6.0"/><circle cx="1062.45" cy="206.98" r="6.0"/><circle cx="1064.44" cy="209.93" r="6.0"/><circle cx="1066.11" cy="212.87" r="6.0"/><circle cx="1067.85" cy="215.82" r="6.0"/><circle cx="1069.65" cy="218.76" r="6.0"/><circle cx="1072.15" cy="221.71" r="6.0"/><circle cx="1075.37" cy="224.65" r="6.0"/><circle cx="1078.58" cy="227.6" r="6.0"/><circle cx="1082.6" cy="230.54" r="6.0"/><circle cx="1086.91" cy="233.49" r="6.0"/><circle cx="1091.04" cy="236.43" r="6.0"/><circle cx="1094.83" cy="239.38" r="6.0"/><circle cx="1098.14" cy="242.32" r="6.0"/><circle cx="1100.84" cy="245.27" r="6.0"/><circle cx="1103.27" cy="248.21" r="6.0"/><circle cx="1106.04" cy="251.16" r="6.0"/><circle cx="1109.38" cy="254.1" r="6.0"/><circle cx="1113.2" cy="257.05" r="6.0"/><circle cx="1117.39" cy="260" r="6.0"/><circle cx="1121.39" cy="262.94" r="6.0"/><circle cx="1126.22" cy="265.88" r="6.0"/><circle cx="1130.14" cy="268.83" r="6.0"/><circle cx="1133.8" cy="271.77" r="6.0"/><circle cx="1137.13" cy="274.72" r="6.0"/><circle cx="1140.46" cy="277.66" r="6.0"/><circle cx="1144.09" cy="280.61" r="6.0"/><circle cx="1147.86" cy="283.55" r="6.0"/><circle cx="1151.61" cy="286.5" r="6.0"/><circle cx="1155.65" cy="289.44" r="6.0"/><circle cx="1160.22" cy="292.39" r="6.0"/><circle cx="1164.77" cy="295.33" r="6.0"/><circle cx="1169.3" cy="298.28" r="6.0"/><circle cx="1174.28" cy="301.22" r="6.0"/><circle cx="1178.65" cy="304.17" r="6.0"/><circle cx="1183" cy="307.11" r="6.0"/><circle cx="1187.03" cy="310.06" r="6.0"/><circle cx="1190.84" cy="313" r="6.0"/><circle cx="1194.42" cy="315.95" r="6.0"/><circle cx="1197.64" cy="318.89" r="6.0"/><circle cx="1200.03" cy="321.84" r="6.0"/><circle cx="1202.57" cy="324.78" r="6.0"/><circle cx="1205.27" cy="327.73" r="6.0"/><circle cx="1207.47" cy="330.67" r="6.0"/><circle cx="1208.92" cy="333.62" r="6.0"/><circle cx="1210.37" cy="336.56" r="6.0"/><circle cx="1211.83" cy="339.51" r="6.0"/><circle cx="1213.29" cy="342.45" r="6.0"/><circle cx="1214.74" cy="345.4" r="6.0"/><circle cx="1216.18" cy="348.34" r="6.0"/><circle cx="1217.77" cy="351.29" r="6.0"/><circle cx="1219.41" cy="354.23" r="6.0"/><circle cx="1221.06" cy="357.18" r="6.0"/><circle cx="1222.47" cy="360.12" r="6.0"/><circle cx="1223.97" cy="363.07" r="6.0"/><circle cx="1225.62" cy="366.01" r="6.0"/><circle cx="1227.27" cy="368.96" r="6.0"/><circle cx="1228.91" cy="371.9" r="6.0"/><circle cx="1230.55" cy="374.85" r="6.0"/><circle cx="1232.19" cy="377.79" r="6.0"/><circle cx="1233.85" cy="380.74" r="6.0"/><circle cx="1235.53" cy="383.68" r="6.0"/><circle cx="1237.24" cy="386.63" r="6.0"/><circle cx="1238.69" cy="389.57" r="6.0"/><circle cx="1239.59" cy="392.52" r="6.0"/><circle cx="1240.49" cy="395.46" r="6.0"/><circle cx="1241.39" cy="398.41" r="6.0"/><circle cx="1241.74" cy="401.35" r="6.0"/><circle cx="1242.09" cy="404.3" r="6.0"/><circle cx="1242.44" cy="407.24" r="6.0"/><circle cx="1243.32" cy="410.19" r="6.0"/><circle cx="1244.42" cy="413.13" r="6.0"/><circle cx="1245.51" cy="416.08" r="6.0"/><circle cx="1246.43" cy="419.02" r="6.0"/><circle cx="1247.01" cy="421.97" r="6.0"/><circle cx="1247.6" cy="424.91" r="6.0"/><circle cx="1248.18" cy="427.86" r="6.0"/><circle cx="1249.16" cy="430.8" r="6.0"/><circle cx="1250.12" cy="433.75" r="6.0"/><circle cx="1251.07" cy="436.69" r="6.0"/><circle cx="1252.03" cy="439.64" r="6.0"/><circle cx="1252.99" cy="442.58" r="6.0"/><circle cx="1253.98" cy="445.53" r="6.0"/><circle cx="1254.98" cy="448.47" r="6.0"/><circle cx="1255.98" cy="451.42" r="6.0"/><circle cx="1256.98" cy="454.36" r="6.0"/><circle cx="1258.01" cy="457.31" r="6.0"/><circle cx="1259.04" cy="460.25" r="6.0"/><circle cx="1260.06" cy="463.2" r="6.0"/><circle cx="1260.76" cy="466.14" r="6.0"/><circle cx="1261.43" cy="469.09" r="6.0"/><circle cx="1262.17" cy="472.03" r="6.0"/><circle cx="1263.05" cy="474.98" r="6.0"/><circle cx="1263.93" cy="477.92" r="6.0"/><circle cx="1264.81" cy="480.87" r="6.0"/><circle cx="1265.68" cy="483.81" r="6.0"/><circle cx="1266.46" cy="486.76" r="6.0"/><circle cx="1267.2" cy="489.7" r="6.0"/><circle cx="1267.94" cy="492.65" r="6.0"/><circle cx="1268.71" cy="495.59" r="6.0"/><circle cx="1269.51" cy="498.54" r="6.0"/><circle cx="1270.12" cy="501.48" r="6.0"/><circle cx="1270.72" cy="504.43" r="6.0"/><circle cx="1271.68" cy="507.37" r="6.0"/><circle cx="1272.81" cy="510.32" r="6.0"/><circle cx="1273.94" cy="513.26" r="6.0"/><circle cx="1275.01" cy="516.21" r="6.0"/><circle cx="1275.98" cy="519.15" r="6.0"/><circle cx="1276.94" cy="522.1" r="6.0"/><circle cx="1277.9" cy="525.04" r="6.0"/><circle cx="1279.13" cy="527.99" r="6.0"/><circle cx="1280.63" cy="530.93" r="6.0"/><circle cx="1282.13" cy="533.88" r="6.0"/><circle cx="1283.64" cy="536.83" r="6.0"/><circle cx="1284.84" cy="539.77" r="6.0"/><circle cx="1285.96" cy="542.72" r="6.0"/><circle cx="1286.67" cy="545.66" r="6.0"/><circle cx="1287.32" cy="548.61" r="6.0"/><circle cx="1287.94" cy="551.55" r="6.0"/><circle cx="1288.55" cy="554.5" r="6.0"/><circle cx="1289.18" cy="557.44" r="6.0"/><circle cx="1290.01" cy="560.38" r="6.0"/><circle cx="1290.8" cy="563.33" r="6.0"/><circle cx="1291.6" cy="566.27" r="6.0"/><circle cx="1292.39" cy="569.22" r="6.0"/><circle cx="1293.19" cy="572.16" r="6.0"/><circle cx="1294.33" cy="575.11" r="6.0"/><circle cx="1295.47" cy="578.06" r="6.0"/><circle cx="1296.51" cy="581" r="6.0"/><circle cx="1297.39" cy="583.95" r="6.0"/><circle cx="1298.41" cy="586.89" r="6.0"/><circle cx="1299.57" cy="589.84" r="6.0"/><circle cx="1300.73" cy="592.78" r="6.0"/><circle cx="1301.89" cy="595.73" r="6.0"/><circle cx="1302.78" cy="598.67" r="6.0"/><circle cx="1303.53" cy="601.62" r="6.0"/><circle cx="1304.33" cy="604.56" r="6.0"/><circle cx="1305.04" cy="607.5" r="6.0"/><circle cx="1305.55" cy="610.45" r="6.0"/><circle cx="1306.18" cy="613.39" r="6.0"/><circle cx="1306.8" cy="616.34" r="6.0"/></g>
<polyline points="972.48,21.45 973.37,24.39 974.5,27.34 975.82,30.28 977,33.23 978.17,36.17 979.34,39.12 981.08,43.54 984.03,50.9 987.85,58.26 992.31,65.62 995.16,72.99 998.35,80.35 1001.15,87.71 1004.57,95.08 1011.41,109.8 1018.72,124.52 1026.58,139.25 1038.02,153.97 1049.47,168.7 1076.82,205.51 1113.23,242.32 1190.05,315.95 1233.03,389.57 1259.69,463.2 1283.35,536.83 1304.56,610.45 1342.51,757.7" fill="none" stroke="#008000" stroke-width="2.8" stroke-linejoin="round" stroke-linecap="butt"/>
<g fill="#008000"><circle cx="972.48" cy="21.45" r="6.0"/><circle cx="973.37" cy="24.39" r="6.0"/><circle cx="974.5" cy="27.34" r="6.0"/><circle cx="975.82" cy="30.28" r="6.0"/><circle cx="977" cy="33.23" r="6.0"/><circle cx="978.17" cy="36.17" r="6.0"/><circle cx="979.34" cy="39.12" r="6.0"/><circle cx="981.08" cy="43.54" r="6.0"/><circle cx="984.03" cy="50.9" r="6.0"/><circle cx="987.85" cy="58.26" r="6.0"/><circle cx="992.31" cy="65.62" r="6.0"/><circle cx="995.16" cy="72.99" r="6.0"/><circle cx="998.35" cy="80.35" r="6.0"/><circle cx="1001.15" cy="87.71" r="6.0"/><circle cx="1004.57" cy="95.08" r="6.0"/><circle cx="1011.41" cy="109.8" r="6.0"/><circle cx="1018.72" cy="124.52" r="6.0"/><circle cx="1026.58" cy="139.25" r="6.0"/><circle cx="1038.02" cy="153.97" r="6.0"/><circle cx="1049.47" cy="168.7" r="6.0"/><circle cx="1076.82" cy="205.51" r="6.0"/><circle cx="1113.23" cy="242.32" r="6.0"/><circle cx="1190.05" cy="315.95" r="6.0"/><circle cx="1233.03" cy="389.57" r="6.0"/><circle cx="1259.69" cy="463.2" r="6.0"/><circle cx="1283.35" cy="536.83" r="6.0"/><circle cx="1304.56" cy="610.45" r="6.0"/><circle cx="1342.51" cy="757.7" r="6.0"/></g>
<polyline points="974.64,21.45 975.49,24.39 976.53,27.34 977.82,30.28 978.9,33.23 979.99,36.17 981.11,39.12 983.17,43.54 985.61,50.9 988.28,58.26 990.94,65.62 993.23,72.99 995.83,80.35 998.67,87.71 1003.03,95.08 1009.91,109.8 1018.05,124.52 1024.7,139.25 1033.55,153.97 1043.67,168.7 1074.33,205.51 1113.65,242.32 1194.86,315.95 1234.2,389.57 1262.09,463.2 1285.19,536.83 1306.73,610.45 1343.15,757.7" fill="none" stroke="#ff0000" stroke-width="2.8" stroke-linejoin="round" stroke-linecap="butt"/>
<g fill="#ff0000"><circle cx="974.64" cy="21.45" r="6.0"/><circle cx="975.49" cy="24.39" r="6.0"/><circle cx="976.53" cy="27.34" r="6.0"/><circle cx="977.82" cy="30.28" r="6.0"/><circle cx="978.9" cy="33.23" r="6.0"/><circle cx="979.99" cy="36.17" r="6.0"/><circle cx="981.11" cy="39.12" r="6.0"/><circle cx="983.17" cy="43.54" r="6.0"/><circle cx="985.61" cy="50.9" r="6.0"/><circle cx="988.28" cy="58.26" r="6.0"/><circle cx="990.94" cy="65.62" r="6.0"/><circle cx="993.23" cy="72.99" r="6.0"/><circle cx="995.83" cy="80.35" r="6.0"/><circle cx="998.67" cy="87.71" r="6.0"/><circle cx="1003.03" cy="95.08" r="6.0"/><circle cx="1009.91" cy="109.8" r="6.0"/><circle cx="1018.05" cy="124.52" r="6.0"/><circle cx="1024.7" cy="139.25" r="6.0"/><circle cx="1033.55" cy="153.97" r="6.0"/><circle cx="1043.67" cy="168.7" r="6.0"/><circle cx="1074.33" cy="205.51" r="6.0"/><circle cx="1113.65" cy="242.32" r="6.0"/><circle cx="1194.86" cy="315.95" r="6.0"/><circle cx="1234.2" cy="389.57" r="6.0"/><circle cx="1262.09" cy="463.2" r="6.0"/><circle cx="1285.19" cy="536.83" r="6.0"/><circle cx="1306.73" cy="610.45" r="6.0"/><circle cx="1343.15" cy="757.7" r="6.0"/></g>
<polyline points="976.79,22.18 976.85,23.72 976.92,25.35 977.01,27.07 977.32,28.93 978,30.93 978.97,33.13 979.77,35.55 980.62,38.24 981.48,41.28 982.21,44.73 983.22,48.69 984.13,53.25 985.17,58.57 986.52,64.81 988.1,72.15 990.45,80.86 994.93,91.21 1002.44,103.56 1011.01,118.35 1020,136.09 1029.99,157.4 1054.01,183.03 1088.44,213.86 1123.26,250.94 1167.91,295.52 1208.26,349.04 1246.05,413.19 1274.4,489.89 1303.49,581.31" fill="none" stroke="#ff00ff" stroke-width="2.8" stroke-linejoin="round" stroke-linecap="butt"/>
<g fill="#ff00ff"><circle cx="976.79" cy="22.18" r="6.0"/><circle cx="976.85" cy="23.72" r="6.0"/><circle cx="976.92" cy="25.35" r="6.0"/><circle cx="977.01" cy="27.07" r="6.0"/><circle cx="977.32" cy="28.93" r="6.0"/><circle cx="978" cy="30.93" r="6.0"/><circle cx="978.97" cy="33.13" r="6.0"/><circle cx="979.77" cy="35.55" r="6.0"/><circle cx="980.62" cy="38.24" r="6.0"/><circle cx="981.48" cy="41.28" r="6.0"/><circle cx="982.21" cy="44.73" r="6.0"/><circle cx="983.22" cy="48.69" r="6.0"/><circle cx="984.13" cy="53.25" r="6.0"/><circle cx="985.17" cy="58.57" r="6.0"/><circle cx="986.52" cy="64.81" r="6.0"/><circle cx="988.1" cy="72.15" r="6.0"/><circle cx="990.45" cy="80.86" r="6.0"/><circle cx="994.93" cy="91.21" r="6.0"/><circle cx="1002.44" cy="103.56" r="6.0"/><circle cx="1011.01" cy="118.35" r="6.0"/><circle cx="1020" cy="136.09" r="6.0"/><circle cx="1029.99" cy="157.4" r="6.0"/><circle cx="1054.01" cy="183.03" r="6.0"/><circle cx="1088.44" cy="213.86" r="6.0"/><circle cx="1123.26" cy="250.94" r="6.0"/><circle cx="1167.91" cy="295.52" r="6.0"/><circle cx="1208.26" cy="349.04" r="6.0"/><circle cx="1246.05" cy="413.19" r="6.0"/><circle cx="1274.4" cy="489.89" r="6.0"/><circle cx="1303.49" cy="581.31" r="6.0"/></g>
</g>
<rect x="940.5" y="21.5" width="397" height="589" fill="none" stroke="#000" stroke-width="1.4"/>
<path d="M934.2 21.5H940.5M934.2 95.5H940.5M934.2 168.5H940.5M934.2 242.5H940.5M934.2 315.5H940.5M934.2 389.5H940.5M934.2 463.5H940.5M934.2 536.5H940.5M934.2 610.5H940.5M1056.5 610.5V617M1171.5 610.5V617M1286.5 610.5V617" stroke="#000" stroke-width="1.4" fill="none"/>
<rect x="1493.5" y="488.5" width="330.4" height="126.3" rx="4" fill="#fff" stroke="#cccccc" stroke-width="1.3"/>
<path d="M1500 505.3H1545" stroke="#0000ff" stroke-width="2.8"/>
<circle cx="1522.5" cy="505.3" r="6.0" fill="#0000ff"/>
<path d="M1500 535.75H1545" stroke="#008000" stroke-width="2.8"/>
<circle cx="1522.5" cy="535.75" r="6.0" fill="#008000"/>
<path d="M1500 566.2H1545" stroke="#ff0000" stroke-width="2.8"/>
<circle cx="1522.5" cy="566.2" r="6.0" fill="#ff0000"/>
<path d="M1500 596.65H1545" stroke="#ff00ff" stroke-width="2.8"/>
<circle cx="1522.5" cy="596.65" r="6.0" fill="#ff00ff"/>
<text x="74.03" y="30.1" font-size="23.7" textLength="13.06" lengthAdjust="spacingAndGlyphs">0</text>
<text x="59.58" y="103.7" font-size="23.7" textLength="27.32" lengthAdjust="spacingAndGlyphs">50</text>
<text x="44.3" y="177.3" font-size="23.7" textLength="41.05" lengthAdjust="spacingAndGlyphs">100</text>
<text x="44.26" y="250.9" font-size="23.7" textLength="42.13" lengthAdjust="spacingAndGlyphs">150</text>
<text x="43.99" y="324.5" font-size="23.7" textLength="42.61" lengthAdjust="spacingAndGlyphs">200</text>
<text x="43.99" y="398.1" font-size="23.7" textLength="42.61" lengthAdjust="spacingAndGlyphs">250</text>
<text x="44.27" y="471.7" font-size="23.7" textLength="42.34" lengthAdjust="spacingAndGlyphs">300</text>
<text x="44.27" y="545.3" font-size="23.7" textLength="42.34" lengthAdjust="spacingAndGlyphs">350</text>
<text x="44.87" y="618.9" font-size="23.7" textLength="41.12" lengthAdjust="spacingAndGlyphs">400</text>
<text x="88.79" y="639.9" font-size="23.7" textLength="26.69" lengthAdjust="spacingAndGlyphs">15</text>
<text x="210.77" y="639.9" font-size="23.7" textLength="27.32" lengthAdjust="spacingAndGlyphs">20</text>
<text x="333.93" y="639.9" font-size="23.7" textLength="27.15" lengthAdjust="spacingAndGlyphs">25</text>
<text x="455.59" y="639.9" font-size="23.7" textLength="27.35" lengthAdjust="spacingAndGlyphs">30</text>
<text x="591.74" y="639.9" font-size="23.7" textLength="47.8" lengthAdjust="spacingAndGlyphs">36.0</text>
<text x="713.04" y="639.9" font-size="23.7" textLength="48.87" lengthAdjust="spacingAndGlyphs">36.5</text>
<text x="835.02" y="639.9" font-size="23.7" textLength="49.26" lengthAdjust="spacingAndGlyphs">37.0</text>
<text x="1027.12" y="639.9" font-size="23.7" textLength="55.99" lengthAdjust="spacingAndGlyphs">1024</text>
<text x="1141.92" y="639.9" font-size="23.7" textLength="56.3" lengthAdjust="spacingAndGlyphs">1026</text>
<text x="1257.34" y="639.9" font-size="23.7" textLength="55.91" lengthAdjust="spacingAndGlyphs">1028</text>
<text x="179" y="673.6" font-size="25.6" textLength="174.1" lengthAdjust="spacingAndGlyphs" font-weight="bold">Temperature</text>
<text x="362.5" y="673.6" font-size="25.6" textLength="51.38" lengthAdjust="spacingAndGlyphs" font-weight="bold">(&#730;C)</text>
<text x="626.35" y="670.7" font-size="25.6" textLength="102.31" lengthAdjust="spacingAndGlyphs" font-weight="bold">Salinity</text>
<text x="738.47" y="670.7" font-size="25.6" textLength="69.86" lengthAdjust="spacingAndGlyphs" font-weight="bold">(psu)</text>
<text x="1087.27" y="670.6" font-size="25.6" textLength="102.67" lengthAdjust="spacingAndGlyphs" font-weight="bold">Density</text>
<text x="326.49" y="695.5" font-size="18.3" textLength="279.85" lengthAdjust="spacingAndGlyphs" font-style="italic">Ocean Heat Content (kJ/cm^2) -</text>
<text x="612.03" y="695.5" font-size="18.3" textLength="140.08" lengthAdjust="spacingAndGlyphs" font-style="italic">Argo: 179.8185,</text>
<text x="763.2" y="695.5" font-size="18.3" textLength="156.45" lengthAdjust="spacingAndGlyphs" font-style="italic">RTOFS: 166.2531,</text>
<text x="931.18" y="695.5" font-size="18.3" textLength="144.36" lengthAdjust="spacingAndGlyphs" font-style="italic">ESPC: 151.3972,</text>
<text x="1085.76" y="695.5" font-size="18.3" textLength="164.05" lengthAdjust="spacingAndGlyphs" font-style="italic">CMEMS: 178.8353,</text>
<text x="1435.49" y="40.8" font-size="27.6" textLength="70.21" lengthAdjust="spacingAndGlyphs" font-weight="bold">Argo</text>
<text x="1515.58" y="40.8" font-size="27.6" textLength="147.54" lengthAdjust="spacingAndGlyphs" font-weight="bold">#4903550</text>
<text x="1434.57" y="70.72" font-size="27.6" textLength="94.71" lengthAdjust="spacingAndGlyphs" font-weight="bold">ARGO:</text>
<text x="1539.33" y="70.72" font-size="27.6" textLength="285.78" lengthAdjust="spacingAndGlyphs" font-weight="bold">2025-09-29T00:28Z</text>
<text x="1434.51" y="100.64" font-size="27.6" textLength="95.81" lengthAdjust="spacingAndGlyphs" font-weight="bold">ESPC :</text>
<text x="1539.33" y="100.64" font-size="27.6" textLength="285.78" lengthAdjust="spacingAndGlyphs" font-weight="bold">2025-09-29T00:00Z</text>
<text x="1434.5" y="130.56" font-size="27.6" textLength="106.49" lengthAdjust="spacingAndGlyphs" font-weight="bold">RTOFS:</text>
<text x="1551.26" y="130.56" font-size="27.6" textLength="284.47" lengthAdjust="spacingAndGlyphs" font-weight="bold">2025-09-29T00:00Z</text>
<text x="1434.53" y="160.48" font-size="27.6" textLength="119.16" lengthAdjust="spacingAndGlyphs" font-weight="bold">CMEMS:</text>
<text x="1563.33" y="160.48" font-size="27.6" textLength="285.37" lengthAdjust="spacingAndGlyphs" font-weight="bold">2025-09-29T00:00Z</text>
<text x="1559.93" y="511.4" font-size="22.1" textLength="91.65" lengthAdjust="spacingAndGlyphs">4903550</text>
<text x="1658.79" y="511.4" font-size="22.1" textLength="157.47" lengthAdjust="spacingAndGlyphs">[-84.78, 23.67]</text>
<text x="1561.05" y="541.95" font-size="22.1" textLength="51.44" lengthAdjust="spacingAndGlyphs">ESPC</text>
<text x="1620.4" y="541.95" font-size="22.1" textLength="142.71" lengthAdjust="spacingAndGlyphs">[-84.8, 23.68]</text>
<text x="1560.03" y="572.5" font-size="22.1" textLength="66.46" lengthAdjust="spacingAndGlyphs">RTOFS</text>
<text x="1633.44" y="572.5" font-size="22.1" textLength="156.45" lengthAdjust="spacingAndGlyphs">[-84.80, 23.69]</text>
<text x="1560.24" y="603.05" font-size="22.1" textLength="76.48" lengthAdjust="spacingAndGlyphs">CMEMS</text>
<text x="1643.22" y="603.05" font-size="22.1" textLength="156.24" lengthAdjust="spacingAndGlyphs">[-84.75, 23.67]</text>
<text transform="translate(30.1,383.7) rotate(-90)" font-size="25.7" font-weight="bold" textLength="134.7" lengthAdjust="spacingAndGlyphs" x="0" y="0">Depth (m)</text>
<g>
<clipPath id="mclip"><rect x="1511.2" y="199.3" width="295" height="233.2"/></clipPath>
<g clip-path="url(#mclip)">
<rect x="1511.2" y="199.3" width="295" height="233.2" fill="#97b6e1"/>
<path d="M1790,190 L1787,196 L1784.2,199.1 L1777.8,202.8 L1768.7,208.3 L1763.2,215.6 L1759.6,222 L1756.8,229.3 L1756.4,232 L1758,239.3 L1761,250.1 L1765.7,260.9 L1768.8,271.7 L1771.9,281 L1774.9,290.2 L1776.5,298 L1776.8,307.2 L1775.7,316.5 L1773.4,321.1 L1768.8,324.2 L1764.1,322.7 L1759.5,318 L1754.9,313.4 L1751.8,307.2 L1749.5,301 L1746.4,294.9 L1743.3,288.7 L1740.2,281 L1738.6,273.2 L1739.4,265.5 L1736.3,260.9 L1731.7,256.3 L1727.1,251.6 L1720.9,247 L1716.3,246.2 L1711.6,248.5 L1707,253.2 L1702.4,251.6 L1697.7,245.4 L1693.1,242.4 L1690,240.8 L1688.8,241.2 L1684.9,241.2 L1681.1,242.4 L1677.2,242.8 L1673.4,243.6 L1669.5,243.9 L1665.6,243.9 L1661.8,244.3 L1657.9,244.3 L1654.1,244.7 L1653.3,246.3 L1654.1,249.3 L1651,252 L1647.9,257.1 L1651.7,260.9 L1649.4,263.2 L1645.6,265.6 L1641.7,258.6 L1636.3,256.3 L1632.4,260.2 L1625.5,261.7 L1619.3,258.6 L1614,255.5 L1607.7,253.5 L1604.3,255 L1599,254 L1593.8,252.4 L1588.5,252.4 L1583.2,253.5 L1578,255 L1572.7,257.7 L1567.4,261.9 L1562.1,265.6 L1556.9,267.7 L1551.6,270.3 L1546.3,273.5 L1541.1,277.7 L1537.9,281.9 L1535.8,286.1 L1534.8,290.3 L1534.2,294.5 L1534.3,300 L1533.5,311.8 L1530.6,319.7 L1528.6,329.5 L1527.6,339.3 L1527,349.1 L1526.6,359 L1527.6,368.8 L1530.6,374.7 L1533.5,379.6 L1538.4,388.4 L1544.3,398.3 L1549.2,408.1 L1556.1,417.9 L1564,421.9 L1569.9,425.8 L1574.8,429.7 L1587.5,425.8 L1599.3,422.8 L1611.1,422.8 L1621,419.9 L1626.9,412 L1628.8,402.2 L1629.8,392.4 L1632.7,386.5 L1640.6,382.5 L1652.4,379.6 L1662.2,378.2 L1671.8,378.7 L1679.7,377.7 L1683.6,380.6 L1681.6,388.5 L1677.7,396.4 L1673.8,402.3 L1670.8,410.1 L1669.8,418 L1667.9,425.9 L1665.9,431.8 L1665,440 L1500,440 L1500,190Z" fill="#d2b48c" stroke="#000" stroke-width="2" stroke-linejoin="round"/>
<path d="M1707.5,374 L1710.5,369.5 L1714.2,365.5 L1719,362.3 L1724.3,359.6 L1734.4,356.3 L1744.6,354.6 L1756.4,353.7 L1764.8,352.9 L1774.9,354.6 L1785,359.6 L1795.1,363.8 L1806.1,366.4 L1815,369 L1815,393 L1806.1,390.8 L1801.9,389.1 L1798.5,382.4 L1791.8,378.2 L1783.3,375.6 L1774.9,372.3 L1764.8,370.6 L1756.4,368.1 L1749.6,365.5 L1754.7,363.8 L1747.9,362.2 L1739.5,362.2 L1731.1,364.7 L1724.3,368.9 L1719.3,372.3 L1714.2,374 L1709.1,374.8Z" fill="#d2b48c" stroke="#000" stroke-width="2" stroke-linejoin="round"/>
<path d="M1735,374.5 L1741,374 L1743,377 L1740,380.5 L1736,380.5 L1734,378Z" fill="#d2b48c" stroke="#000" stroke-width="2" stroke-linejoin="round"/>
<path d="M1800.5,427.5 L1803,424.5 L1810,423.5 L1810,435 L1801,435Z" fill="#d2b48c" stroke="#000" stroke-width="2" stroke-linejoin="round"/>
<path d="M1801,321 L1804,320 L1810,320 L1810,338 L1803,336 L1800.5,329Z" fill="#d2b48c" stroke="#000" stroke-width="2" stroke-linejoin="round"/>
<path d="M1792,300.5 L1797,298.5 L1803,298 L1810,297 L1810,302 L1804,303.5 L1797,303Z" fill="#000" stroke="#000" stroke-width="1" stroke-linejoin="round"/>
<path d="M1801,293 L1806,291 L1810,290 L1810,296.5 L1803,296Z" fill="#000" stroke="#000" stroke-width="1" stroke-linejoin="round"/>
<ellipse cx="1634.8" cy="244.6" rx="3.8" ry="2.4" fill="#97b6e1" stroke="#000" stroke-width="1.2"/>
<ellipse cx="1614.2" cy="421.6" rx="3.6" ry="1.7" fill="#97b6e1" stroke="#000" stroke-width="1.1"/>
<path d="M1765.7,293.2 L1768.8,296.4 L1765.7,299.6 L1762.6,296.4Z" fill="#b4b4b4"/>
<path d="M1527.8,321 L1531,320 L1532.2,330 L1530.5,340 L1528.2,338 L1528.4,330Z" fill="#5d7396" stroke="#223" stroke-width="0.8"/>
<polyline points="1517.4,198.6 1523,204 1529.2,210.1 1536.5,221 1543.8,232 1550.2,241.1 1553,244.8 1553,252.1 1558.4,257.6 1561.2,264.9" fill="none" stroke="#97b6e1" stroke-width="1.9" stroke-linejoin="round"/>
<polyline points="1613.5,231.6 1617,237 1620,242 1627,247.8 1632,249 1637.8,250.1 1640.2,255.5 1645,259.5 1649.4,263.2" fill="none" stroke="#97b6e1" stroke-width="1.9" stroke-linejoin="round"/>
<polyline points="1685.6,199.1 1689.3,206.4 1682,209 1673.7,213.7 1670,222 1667.3,232 1665.3,238 1665,242.4" fill="none" stroke="#97b6e1" stroke-width="1.9" stroke-linejoin="round"/>
<polyline points="1708.4,236.6 1707.5,243 1706.6,252.1" fill="none" stroke="#97b6e1" stroke-width="1.9" stroke-linejoin="round"/>
<polyline points="1510.9,374.7 1518,372.5 1527.6,368.8" fill="none" stroke="#97b6e1" stroke-width="1.9" stroke-linejoin="round"/>
<polyline points="1599.3,430 1601,425 1603,422.8" fill="none" stroke="#97b6e1" stroke-width="1.9" stroke-linejoin="round"/>
<polyline points="1604,423 1607.2,430.7" fill="none" stroke="#97b6e1" stroke-width="1.9" stroke-linejoin="round"/>
<polyline points="1509,305.3 1520,308.5 1528,311.5 1534,313.8" fill="none" stroke="#97b6e1" stroke-width="1.9" stroke-linejoin="round"/>
<polyline points="1580.4,198.6 1581.3,213.7 1586.8,230.2 1585.3,239.8 1584.3,248.2 1583.2,252.4" fill="none" stroke="#000" stroke-width="1.4" stroke-linejoin="round"/>
<polyline points="1621.5,198.6 1620,205 1618.5,220 1616,226 1613.9,231.6 1640.9,231.6 1640.2,235.4 1641.7,240.1 1642.5,243.2" fill="none" stroke="#000" stroke-width="1.4" stroke-linejoin="round"/>
<polyline points="1658.7,198.6 1658.9,220 1659.8,241.6" fill="none" stroke="#000" stroke-width="1.4" stroke-linejoin="round"/>
<polyline points="1671.9,232 1708.4,232" fill="none" stroke="#000" stroke-width="1.4" stroke-linejoin="round"/>
<polyline points="1671,231.6 1673.4,240.1" fill="none" stroke="#000" stroke-width="1.4" stroke-linejoin="round"/>
<polyline points="1704.8,198.6 1708.4,211.9 1706.6,226.5 1708.4,235.7 1708.4,236.6 1746.8,239.3 1747.7,242 1749.5,234.7 1755.9,234.7" fill="none" stroke="#000" stroke-width="1.4" stroke-linejoin="round"/>
<polyline points="1755.9,198.6 1761.4,210.1 1765,215.6" fill="none" stroke="#000" stroke-width="1.4" stroke-linejoin="round"/>
<polyline points="1509,305.3 1520,308.5 1528,311.5 1534,313.8" fill="none" stroke="#000" stroke-width="1.3" stroke-dasharray="3.5 2"/>
<polyline points="1536,300 1534.5,294 1535,287 1537,282 1541,277.5 1546,273.5 1552,270 1557,267.5 1562,265.3 1567,261.5 1572,257.5" fill="none" stroke="#000" stroke-width="3" stroke-linejoin="round" stroke-linecap="round"/>
<polyline points="1599,254 1604,255 1608,253.5 1614,255.5 1619,258.5 1625,261.5 1632,260 1636,256.5 1641.5,258.5 1645.5,265" fill="none" stroke="#000" stroke-width="3" stroke-linejoin="round" stroke-linecap="round"/>
<polyline points="1654,244.5 1660,244 1668,243.6 1676,243 1684,241.3 1690,241" fill="none" stroke="#000" stroke-width="3" stroke-linejoin="round" stroke-linecap="round"/>
<polyline points="1739,273 1740,281 1743,288.5 1746.5,295 1749.5,301 1752,307 1755,313 1760,318 1764,322.5 1768.8,324.2 1773.4,321.1" fill="none" stroke="#000" stroke-width="3" stroke-linejoin="round" stroke-linecap="round"/>
<polyline points="1528.5,319 1528,330 1527.4,340" fill="none" stroke="#000" stroke-width="3" stroke-linejoin="round" stroke-linecap="round"/>
<polyline points="1764.8,353.5 1774.9,355.5 1785,360.5 1795.1,364.8 1806.1,367.5" fill="none" stroke="#000" stroke-width="3" stroke-linejoin="round" stroke-linecap="round"/>
<polyline points="1742,374.5 1748,371 1754,368.5 1758,368.8" fill="none" stroke="#000" stroke-width="3" stroke-linejoin="round" stroke-linecap="round"/>
<polyline points="1793,380 1798,384 1801,388 1806,391" fill="none" stroke="#000" stroke-width="3" stroke-linejoin="round" stroke-linecap="round"/>
<polyline points="1707.5,374.5 1712,373.6" fill="none" stroke="#000" stroke-width="3" stroke-linejoin="round" stroke-linecap="round"/>
<polyline points="1676,400 1673.5,405 1671.5,412 1670.5,420" fill="none" stroke="#000" stroke-width="3" stroke-linejoin="round" stroke-linecap="round"/>
<polyline points="1645,265 1649,263 1651.5,260.5 1648,257 1651,252.5 1654,249.5" fill="none" stroke="#000" stroke-width="3" stroke-linejoin="round" stroke-linecap="round"/>
<polyline points="1716,246.5 1721,247.2 1727,251.8 1732,256.5 1736.5,261 1739.2,265.5" fill="none" stroke="#000" stroke-width="3.6" stroke-linejoin="round" stroke-linecap="round"/>
<polyline points="1739.5,266 1738.8,273 1740.4,281 1743.5,288.7 1746.6,294.9 1749.7,301 1752,307 1755,313 1759.5,318 1764,322.3" fill="none" stroke="#000" stroke-width="3.6" stroke-linejoin="round" stroke-linecap="round"/>
<polyline points="1762,258 1765.5,263 1767,268" fill="none" stroke="#000" stroke-width="3.6" stroke-linejoin="round" stroke-linecap="round"/>
<g fill="#000"><ellipse cx="1571.4" cy="256" rx="3.2" ry="2.6"/><ellipse cx="1547.8" cy="270" rx="3.6" ry="2.0"/><ellipse cx="1541.2" cy="274.8" rx="2.2" ry="1.8"/><ellipse cx="1537.4" cy="278.9" rx="2.0" ry="2.0"/><ellipse cx="1534.2" cy="284.3" rx="2.0" ry="2.2"/><ellipse cx="1532.5" cy="290.7" rx="2.0" ry="2.4"/><ellipse cx="1532.1" cy="297.7" rx="1.6" ry="2.0"/><ellipse cx="1553" cy="268.5" rx="2.4" ry="1.6"/><ellipse cx="1609.6" cy="253.5" rx="3.0" ry="2.0"/><ellipse cx="1616.9" cy="256.2" rx="2.4" ry="1.8"/><ellipse cx="1624.2" cy="260.8" rx="2.6" ry="1.8"/><ellipse cx="1629.7" cy="262.1" rx="2.4" ry="1.8"/><ellipse cx="1635.2" cy="259.4" rx="2.0" ry="1.8"/><ellipse cx="1640.5" cy="256" rx="2.4" ry="3.0"/><ellipse cx="1644" cy="260" rx="2.0" ry="3.0"/><ellipse cx="1650" cy="250" rx="2.5" ry="3.5"/><ellipse cx="1651.5" cy="255.4" rx="1.6" ry="2.4"/><ellipse cx="1738" cy="270" rx="2.0" ry="2.5"/><ellipse cx="1741" cy="278" rx="1.8" ry="2.2"/><ellipse cx="1744.5" cy="290" rx="2.2" ry="2.8"/><ellipse cx="1748.5" cy="298" rx="1.8" ry="2.2"/><ellipse cx="1752" cy="306" rx="2.2" ry="2.5"/><ellipse cx="1755.5" cy="311.5" rx="2.0" ry="2.0"/><ellipse cx="1760" cy="317.5" rx="2.0" ry="2.0"/><ellipse cx="1700" cy="250" rx="2.0" ry="1.6"/><ellipse cx="1705" cy="252.5" rx="2.0" ry="1.6"/><ellipse cx="1767.5" cy="270" rx="1.4" ry="3.0"/><ellipse cx="1776" cy="203.5" rx="2.0" ry="1.6"/><ellipse cx="1770" cy="207.5" rx="2.2" ry="1.8"/><ellipse cx="1765" cy="212.5" rx="1.8" ry="2.2"/><ellipse cx="1761.5" cy="218" rx="1.6" ry="2.2"/><ellipse cx="1758.5" cy="224" rx="1.6" ry="2.4"/><ellipse cx="1757" cy="230" rx="1.4" ry="2.2"/><ellipse cx="1778" cy="355" rx="2.5" ry="1.6"/><ellipse cx="1786" cy="358.5" rx="2.8" ry="2.0"/><ellipse cx="1794" cy="362.5" rx="2.8" ry="2.0"/><ellipse cx="1801" cy="365.5" rx="2.6" ry="2.0"/><ellipse cx="1752" cy="367" rx="3.0" ry="2.2"/><ellipse cx="1797.5" cy="384" rx="2.0" ry="2.4"/><ellipse cx="1802" cy="387.5" rx="2.2" ry="2.0"/><ellipse cx="1672.5" cy="404" rx="1.6" ry="2.4"/><ellipse cx="1533.5" cy="379.5" rx="2.0" ry="2.2"/><ellipse cx="1536" cy="383.5" rx="1.6" ry="1.8"/><ellipse cx="1670.5" cy="414" rx="1.4" ry="2.4"/><ellipse cx="1669" cy="424" rx="1.6" ry="2.6"/><ellipse cx="1665" cy="429.5" rx="2.2" ry="1.8"/></g>
<polyline points="1747.1,333.5 1752,332.5 1758,331 1764.1,328.8 1769,326 1773.4,322.7" fill="none" stroke="#000" stroke-width="3.2" stroke-linecap="round"/>
<ellipse cx="1759.3" cy="412.1" rx="3.2" ry="1.6" fill="#000"/>
<ellipse cx="1778" cy="406.8" rx="3.0" ry="1.2" fill="#000"/>
<ellipse cx="1679.7" cy="396.4" rx="1.8" ry="2.6" fill="#000"/>
<ellipse cx="1787.3" cy="318.8" rx="1.0" ry="3.6" fill="#000"/>
<ellipse cx="1772" cy="343" rx="1.6" ry="1.0" fill="#000"/>
<ellipse cx="1779" cy="344" rx="1.0" ry="2.6" fill="#000"/>
<ellipse cx="1736.9" cy="332.3" rx="1.1" ry="1.1" fill="#888"/>
<ellipse cx="1617" cy="370.4" rx="0.9" ry="0.9" fill="#666"/>
<ellipse cx="1640.6" cy="364.9" rx="1.1" ry="1.4" fill="#666"/>
<ellipse cx="1605.2" cy="388.4" rx="1.0" ry="1.0" fill="#666"/>
<ellipse cx="1609.2" cy="399.3" rx="0.9" ry="0.9" fill="#666"/>
<circle cx="1711" cy="347.7" r="5.9" fill="#0000ff"/>
</g>
<path d="M1511.2,432.5H1806.2V199.3" fill="none" stroke="#000" stroke-width="1.1"/>
<path d="M1511.2,432.5V199.3H1806.2" fill="none" stroke="#c8c8d0" stroke-width="0.6"/>
<path d="M1511.2,199.3V190.3M1511.2,432.5V441.5M1553.3,199.3V190.3M1553.3,432.5V441.5M1595.5,199.3V190.3M1595.5,432.5V441.5M1637.6,199.3V190.3M1637.6,432.5V441.5M1679.8,199.3V190.3M1679.8,432.5V441.5M1721.9,199.3V190.3M1721.9,432.5V441.5M1764.1,199.3V190.3M1764.1,432.5V441.5M1806.2,199.3V190.3M1806.2,432.5V441.5M1511.2,432.5H1502.2M1806.2,432.5H1815.2M1511.2,388H1502.2M1806.2,388H1815.2M1511.2,342.7H1502.2M1806.2,342.7H1815.2M1511.2,296.2H1502.2M1806.2,296.2H1815.2M1511.2,248.5H1502.2M1806.2,248.5H1815.2M1511.2,199.3H1502.2M1806.2,199.3H1815.2" stroke="#000" stroke-width="2.6" fill="none"/>
<path d="M1525.2,199.3V196.3M1525.2,432.5V435.5M1539.3,199.3V196.3M1539.3,432.5V435.5M1567.4,199.3V196.3M1567.4,432.5V435.5M1581.4,199.3V196.3M1581.4,432.5V435.5M1609.5,199.3V196.3M1609.5,432.5V435.5M1623.6,199.3V196.3M1623.6,432.5V435.5M1651.7,199.3V196.3M1651.7,432.5V435.5M1665.7,199.3V196.3M1665.7,432.5V435.5M1693.8,199.3V196.3M1693.8,432.5V435.5M1707.9,199.3V196.3M1707.9,432.5V435.5M1736,199.3V196.3M1736,432.5V435.5M1750,199.3V196.3M1750,432.5V435.5M1778.1,199.3V196.3M1778.1,432.5V435.5M1792.2,199.3V196.3M1792.2,432.5V435.5M1511.2,417.7H1508.2M1806.2,417.7H1809.2M1511.2,402.9H1508.2M1806.2,402.9H1809.2M1511.2,373H1508.2M1806.2,373H1809.2M1511.2,357.9H1508.2M1806.2,357.9H1809.2M1511.2,327.3H1508.2M1806.2,327.3H1809.2M1511.2,311.8H1508.2M1806.2,311.8H1809.2M1511.2,280.5H1508.2M1806.2,280.5H1809.2M1511.2,264.6H1508.2M1806.2,264.6H1809.2M1511.2,232.3H1508.2M1806.2,232.3H1809.2M1511.2,215.9H1508.2M1806.2,215.9H1809.2" stroke="#000" stroke-width="1.6" fill="none"/>
<text x="1495" y="437.7" font-size="14" text-anchor="end" textLength="32.9" lengthAdjust="spacingAndGlyphs">18&#176;N</text>
<text x="1495" y="393.2" font-size="14" text-anchor="end" textLength="32.9" lengthAdjust="spacingAndGlyphs">21&#176;N</text>
<text x="1495" y="347.9" font-size="14" text-anchor="end" textLength="32.9" lengthAdjust="spacingAndGlyphs">24&#176;N</text>
<text x="1495" y="301.4" font-size="14" text-anchor="end" textLength="32.9" lengthAdjust="spacingAndGlyphs">27&#176;N</text>
<text x="1495" y="253.7" font-size="14" text-anchor="end" textLength="32.9" lengthAdjust="spacingAndGlyphs">30&#176;N</text>
<text x="1495" y="204.5" font-size="14" text-anchor="end" textLength="32.9" lengthAdjust="spacingAndGlyphs">33&#176;N</text>
<text x="1493.1" y="457.7" font-size="14" textLength="36.2" lengthAdjust="spacingAndGlyphs">99&#176;W</text>
<text x="1535.2" y="457.7" font-size="14" textLength="36.2" lengthAdjust="spacingAndGlyphs">96&#176;W</text>
<text x="1577.4" y="457.7" font-size="14" textLength="36.2" lengthAdjust="spacingAndGlyphs">93&#176;W</text>
<text x="1619.5" y="457.7" font-size="14" textLength="36.2" lengthAdjust="spacingAndGlyphs">90&#176;W</text>
<text x="1661.7" y="457.7" font-size="14" textLength="36.2" lengthAdjust="spacingAndGlyphs">87&#176;W</text>
<text x="1703.8" y="457.7" font-size="14" textLength="36.2" lengthAdjust="spacingAndGlyphs">84&#176;W</text>
<text x="1746" y="457.7" font-size="14" textLength="36.2" lengthAdjust="spacingAndGlyphs">81&#176;W</text>
<text x="1788.1" y="457.7" font-size="14" textLength="36.2" lengthAdjust="spacingAndGlyphs">78&#176;W</text>
</g>
</svg>
</body></html>
